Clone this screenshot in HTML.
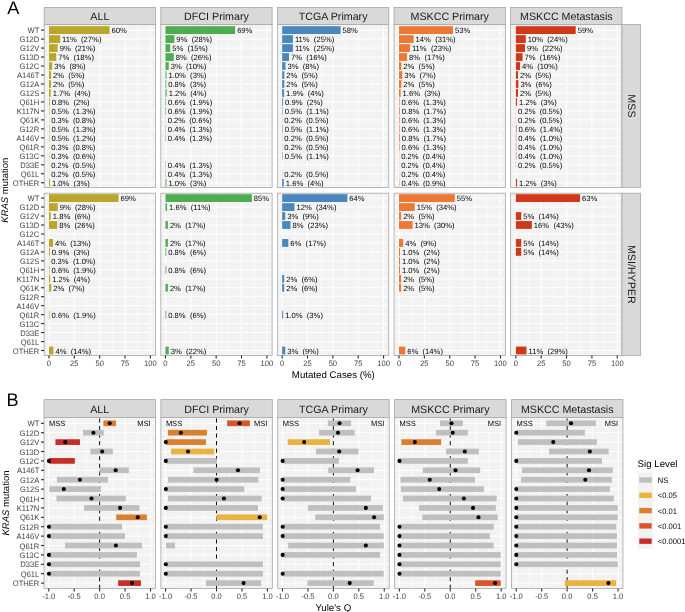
<!DOCTYPE html>
<html lang="en">
<head>
<meta charset="utf-8">
<title>KRAS mutation frequencies by cohort and MSI status</title>
<style>
html,body{margin:0;padding:0;background:#fff;}
body{width:685px;height:612px;overflow:hidden;font-family:"Liberation Sans", Arial, Helvetica, sans-serif;}
svg text{font-family:"Liberation Sans", Arial, Helvetica, sans-serif;}
</style>
</head>
<body>
<svg width="685" height="612" viewBox="0 0 685 612" font-family='"Liberation Sans", Arial, Helvetica, sans-serif' text-rendering="geometricPrecision" style="display:block">
<rect x="0" y="0" width="685" height="612" fill="#FFFFFF"/>
<text x="7.2" y="13.5" font-size="18.2" fill="#000" text-anchor="start">A</text>
<text x="6.5" y="406.4" font-size="18.2" fill="#000" text-anchor="start">B</text>
<rect x="44.2" y="7.4" width="111.3" height="17.1" fill="#D9D9D9" stroke="#A6A6A6" stroke-width="0.8"/>
<text x="99.85" y="19.8" font-size="10.7" fill="#1A1A1A" text-anchor="middle">ALL</text>
<rect x="44.2" y="24.5" width="111.3" height="162.95" fill="#F2F2F2"/>
<line x1="61.63" y1="24.5" x2="61.63" y2="187.45" stroke="#FFFFFF" stroke-width="0.55"/>
<line x1="86.98" y1="24.5" x2="86.98" y2="187.45" stroke="#FFFFFF" stroke-width="0.55"/>
<line x1="112.34" y1="24.5" x2="112.34" y2="187.45" stroke="#FFFFFF" stroke-width="0.55"/>
<line x1="137.69" y1="24.5" x2="137.69" y2="187.45" stroke="#FFFFFF" stroke-width="0.55"/>
<line x1="44.2" y1="30.1" x2="155.5" y2="30.1" stroke="#FFFFFF" stroke-width="1"/>
<line x1="44.2" y1="39.08" x2="155.5" y2="39.08" stroke="#FFFFFF" stroke-width="1"/>
<line x1="44.2" y1="48.06" x2="155.5" y2="48.06" stroke="#FFFFFF" stroke-width="1"/>
<line x1="44.2" y1="57.04" x2="155.5" y2="57.04" stroke="#FFFFFF" stroke-width="1"/>
<line x1="44.2" y1="66.02" x2="155.5" y2="66.02" stroke="#FFFFFF" stroke-width="1"/>
<line x1="44.2" y1="75" x2="155.5" y2="75" stroke="#FFFFFF" stroke-width="1"/>
<line x1="44.2" y1="83.98" x2="155.5" y2="83.98" stroke="#FFFFFF" stroke-width="1"/>
<line x1="44.2" y1="92.96" x2="155.5" y2="92.96" stroke="#FFFFFF" stroke-width="1"/>
<line x1="44.2" y1="101.94" x2="155.5" y2="101.94" stroke="#FFFFFF" stroke-width="1"/>
<line x1="44.2" y1="110.92" x2="155.5" y2="110.92" stroke="#FFFFFF" stroke-width="1"/>
<line x1="44.2" y1="119.9" x2="155.5" y2="119.9" stroke="#FFFFFF" stroke-width="1"/>
<line x1="44.2" y1="128.88" x2="155.5" y2="128.88" stroke="#FFFFFF" stroke-width="1"/>
<line x1="44.2" y1="137.86" x2="155.5" y2="137.86" stroke="#FFFFFF" stroke-width="1"/>
<line x1="44.2" y1="146.84" x2="155.5" y2="146.84" stroke="#FFFFFF" stroke-width="1"/>
<line x1="44.2" y1="155.82" x2="155.5" y2="155.82" stroke="#FFFFFF" stroke-width="1"/>
<line x1="44.2" y1="164.8" x2="155.5" y2="164.8" stroke="#FFFFFF" stroke-width="1"/>
<line x1="44.2" y1="173.78" x2="155.5" y2="173.78" stroke="#FFFFFF" stroke-width="1"/>
<line x1="44.2" y1="182.76" x2="155.5" y2="182.76" stroke="#FFFFFF" stroke-width="1"/>
<line x1="48.95" y1="24.5" x2="48.95" y2="187.45" stroke="#FFFFFF" stroke-width="1"/>
<line x1="74.31" y1="24.5" x2="74.31" y2="187.45" stroke="#FFFFFF" stroke-width="1"/>
<line x1="99.66" y1="24.5" x2="99.66" y2="187.45" stroke="#FFFFFF" stroke-width="1"/>
<line x1="125.02" y1="24.5" x2="125.02" y2="187.45" stroke="#FFFFFF" stroke-width="1"/>
<line x1="150.37" y1="24.5" x2="150.37" y2="187.45" stroke="#FFFFFF" stroke-width="1"/>
<rect x="48.95" y="26.2" width="60.65" height="7.8" fill="#BAA62B"/>
<text x="111.6" y="33.1" font-size="7.65" fill="#000" text-anchor="start" xml:space="preserve" style="white-space:pre">60%</text>
<rect x="48.95" y="35.18" width="11.16" height="7.8" fill="#BAA62B"/>
<text x="62.11" y="42.08" font-size="7.65" fill="#000" text-anchor="start" xml:space="preserve" style="white-space:pre">11%  (27%)</text>
<rect x="48.95" y="44.16" width="8.72" height="7.8" fill="#BAA62B"/>
<text x="59.67" y="51.06" font-size="7.65" fill="#000" text-anchor="start" xml:space="preserve" style="white-space:pre">9%  (21%)</text>
<rect x="48.95" y="53.14" width="7.3" height="7.8" fill="#BAA62B"/>
<text x="58.25" y="60.04" font-size="7.65" fill="#000" text-anchor="start" xml:space="preserve" style="white-space:pre">7%  (18%)</text>
<rect x="48.95" y="62.12" width="3.25" height="7.8" fill="#BAA62B"/>
<text x="54.2" y="69.02" font-size="7.65" fill="#000" text-anchor="start" xml:space="preserve" style="white-space:pre">3%  (8%)</text>
<rect x="48.95" y="71.1" width="2.13" height="7.8" fill="#BAA62B"/>
<text x="53.08" y="78" font-size="7.65" fill="#000" text-anchor="start" xml:space="preserve" style="white-space:pre">2%  (5%)</text>
<rect x="48.95" y="80.08" width="2.03" height="7.8" fill="#BAA62B"/>
<text x="52.98" y="86.98" font-size="7.65" fill="#000" text-anchor="start" xml:space="preserve" style="white-space:pre">2%  (5%)</text>
<rect x="48.95" y="89.06" width="1.72" height="7.8" fill="#BAA62B"/>
<text x="52.67" y="95.96" font-size="7.65" fill="#000" text-anchor="start" xml:space="preserve" style="white-space:pre">1.7%  (4%)</text>
<rect x="48.95" y="98.04" width="0.81" height="7.8" fill="#BAA62B"/>
<text x="51.76" y="104.94" font-size="7.65" fill="#000" text-anchor="start" xml:space="preserve" style="white-space:pre">0.8%  (2%)</text>
<rect x="48.95" y="107.02" width="0.51" height="7.8" fill="#BAA62B"/>
<text x="51.46" y="113.92" font-size="7.65" fill="#000" text-anchor="start" xml:space="preserve" style="white-space:pre">0.5%  (1.3%)</text>
<rect x="48.95" y="116" width="0.3" height="7.8" fill="#BAA62B"/>
<text x="51.25" y="122.9" font-size="7.65" fill="#000" text-anchor="start" xml:space="preserve" style="white-space:pre">0.3%  (0.8%)</text>
<rect x="48.95" y="124.98" width="0.51" height="7.8" fill="#BAA62B"/>
<text x="51.46" y="131.88" font-size="7.65" fill="#000" text-anchor="start" xml:space="preserve" style="white-space:pre">0.5%  (1.3%)</text>
<rect x="48.95" y="133.96" width="0.51" height="7.8" fill="#BAA62B"/>
<text x="51.46" y="140.86" font-size="7.65" fill="#000" text-anchor="start" xml:space="preserve" style="white-space:pre">0.5%  (1.2%)</text>
<rect x="48.95" y="142.94" width="0.3" height="7.8" fill="#BAA62B"/>
<text x="51.25" y="149.84" font-size="7.65" fill="#000" text-anchor="start" xml:space="preserve" style="white-space:pre">0.3%  (0.8%)</text>
<rect x="48.95" y="151.92" width="0.3" height="7.8" fill="#BAA62B"/>
<text x="51.25" y="158.82" font-size="7.65" fill="#000" text-anchor="start" xml:space="preserve" style="white-space:pre">0.3%  (0.6%)</text>
<rect x="48.95" y="160.9" width="0.2" height="7.8" fill="#BAA62B"/>
<text x="51.15" y="167.8" font-size="7.65" fill="#000" text-anchor="start" xml:space="preserve" style="white-space:pre">0.2%  (0.5%)</text>
<rect x="48.95" y="169.88" width="0.2" height="7.8" fill="#BAA62B"/>
<text x="51.15" y="176.78" font-size="7.65" fill="#000" text-anchor="start" xml:space="preserve" style="white-space:pre">0.2%  (0.5%)</text>
<rect x="48.95" y="178.86" width="1.01" height="7.8" fill="#BAA62B"/>
<text x="51.96" y="185.76" font-size="7.65" fill="#000" text-anchor="start" xml:space="preserve" style="white-space:pre">1.0%  (3%)</text>
<rect x="44.2" y="24.5" width="111.3" height="162.95" fill="none" stroke="#A6A6A6" stroke-width="0.8"/>
<line x1="41" y1="30.1" x2="44.2" y2="30.1" stroke="#262626" stroke-width="1.1"/>
<text transform="translate(39.3 33.2) scale(0.96 1)" font-size="7.9" fill="#404040" text-anchor="end">WT</text>
<line x1="41" y1="39.08" x2="44.2" y2="39.08" stroke="#262626" stroke-width="1.1"/>
<text transform="translate(39.3 42.18) scale(0.96 1)" font-size="7.9" fill="#404040" text-anchor="end">G12D</text>
<line x1="41" y1="48.06" x2="44.2" y2="48.06" stroke="#262626" stroke-width="1.1"/>
<text transform="translate(39.3 51.16) scale(0.96 1)" font-size="7.9" fill="#404040" text-anchor="end">G12V</text>
<line x1="41" y1="57.04" x2="44.2" y2="57.04" stroke="#262626" stroke-width="1.1"/>
<text transform="translate(39.3 60.14) scale(0.96 1)" font-size="7.9" fill="#404040" text-anchor="end">G13D</text>
<line x1="41" y1="66.02" x2="44.2" y2="66.02" stroke="#262626" stroke-width="1.1"/>
<text transform="translate(39.3 69.12) scale(0.96 1)" font-size="7.9" fill="#404040" text-anchor="end">G12C</text>
<line x1="41" y1="75" x2="44.2" y2="75" stroke="#262626" stroke-width="1.1"/>
<text transform="translate(39.3 78.1) scale(0.96 1)" font-size="7.9" fill="#404040" text-anchor="end">A146T</text>
<line x1="41" y1="83.98" x2="44.2" y2="83.98" stroke="#262626" stroke-width="1.1"/>
<text transform="translate(39.3 87.08) scale(0.96 1)" font-size="7.9" fill="#404040" text-anchor="end">G12A</text>
<line x1="41" y1="92.96" x2="44.2" y2="92.96" stroke="#262626" stroke-width="1.1"/>
<text transform="translate(39.3 96.06) scale(0.96 1)" font-size="7.9" fill="#404040" text-anchor="end">G12S</text>
<line x1="41" y1="101.94" x2="44.2" y2="101.94" stroke="#262626" stroke-width="1.1"/>
<text transform="translate(39.3 105.04) scale(0.96 1)" font-size="7.9" fill="#404040" text-anchor="end">Q61H</text>
<line x1="41" y1="110.92" x2="44.2" y2="110.92" stroke="#262626" stroke-width="1.1"/>
<text transform="translate(39.3 114.02) scale(0.96 1)" font-size="7.9" fill="#404040" text-anchor="end">K117N</text>
<line x1="41" y1="119.9" x2="44.2" y2="119.9" stroke="#262626" stroke-width="1.1"/>
<text transform="translate(39.3 123) scale(0.96 1)" font-size="7.9" fill="#404040" text-anchor="end">Q61K</text>
<line x1="41" y1="128.88" x2="44.2" y2="128.88" stroke="#262626" stroke-width="1.1"/>
<text transform="translate(39.3 131.98) scale(0.96 1)" font-size="7.9" fill="#404040" text-anchor="end">G12R</text>
<line x1="41" y1="137.86" x2="44.2" y2="137.86" stroke="#262626" stroke-width="1.1"/>
<text transform="translate(39.3 140.96) scale(0.96 1)" font-size="7.9" fill="#404040" text-anchor="end">A146V</text>
<line x1="41" y1="146.84" x2="44.2" y2="146.84" stroke="#262626" stroke-width="1.1"/>
<text transform="translate(39.3 149.94) scale(0.96 1)" font-size="7.9" fill="#404040" text-anchor="end">Q61R</text>
<line x1="41" y1="155.82" x2="44.2" y2="155.82" stroke="#262626" stroke-width="1.1"/>
<text transform="translate(39.3 158.92) scale(0.96 1)" font-size="7.9" fill="#404040" text-anchor="end">G13C</text>
<line x1="41" y1="164.8" x2="44.2" y2="164.8" stroke="#262626" stroke-width="1.1"/>
<text transform="translate(39.3 167.9) scale(0.96 1)" font-size="7.9" fill="#404040" text-anchor="end">D33E</text>
<line x1="41" y1="173.78" x2="44.2" y2="173.78" stroke="#262626" stroke-width="1.1"/>
<text transform="translate(39.3 176.88) scale(0.96 1)" font-size="7.9" fill="#404040" text-anchor="end">Q61L</text>
<line x1="41" y1="182.76" x2="44.2" y2="182.76" stroke="#262626" stroke-width="1.1"/>
<text transform="translate(39.3 185.86) scale(0.96 1)" font-size="7.9" fill="#404040" text-anchor="end">OTHER</text>
<rect x="44.2" y="193.2" width="111.3" height="162.2" fill="#F2F2F2"/>
<line x1="61.63" y1="193.2" x2="61.63" y2="355.4" stroke="#FFFFFF" stroke-width="0.55"/>
<line x1="86.98" y1="193.2" x2="86.98" y2="355.4" stroke="#FFFFFF" stroke-width="0.55"/>
<line x1="112.34" y1="193.2" x2="112.34" y2="355.4" stroke="#FFFFFF" stroke-width="0.55"/>
<line x1="137.69" y1="193.2" x2="137.69" y2="355.4" stroke="#FFFFFF" stroke-width="0.55"/>
<line x1="44.2" y1="198.1" x2="155.5" y2="198.1" stroke="#FFFFFF" stroke-width="1"/>
<line x1="44.2" y1="207.06" x2="155.5" y2="207.06" stroke="#FFFFFF" stroke-width="1"/>
<line x1="44.2" y1="216.03" x2="155.5" y2="216.03" stroke="#FFFFFF" stroke-width="1"/>
<line x1="44.2" y1="225" x2="155.5" y2="225" stroke="#FFFFFF" stroke-width="1"/>
<line x1="44.2" y1="233.96" x2="155.5" y2="233.96" stroke="#FFFFFF" stroke-width="1"/>
<line x1="44.2" y1="242.93" x2="155.5" y2="242.93" stroke="#FFFFFF" stroke-width="1"/>
<line x1="44.2" y1="251.89" x2="155.5" y2="251.89" stroke="#FFFFFF" stroke-width="1"/>
<line x1="44.2" y1="260.86" x2="155.5" y2="260.86" stroke="#FFFFFF" stroke-width="1"/>
<line x1="44.2" y1="269.82" x2="155.5" y2="269.82" stroke="#FFFFFF" stroke-width="1"/>
<line x1="44.2" y1="278.78" x2="155.5" y2="278.78" stroke="#FFFFFF" stroke-width="1"/>
<line x1="44.2" y1="287.75" x2="155.5" y2="287.75" stroke="#FFFFFF" stroke-width="1"/>
<line x1="44.2" y1="296.71" x2="155.5" y2="296.71" stroke="#FFFFFF" stroke-width="1"/>
<line x1="44.2" y1="305.68" x2="155.5" y2="305.68" stroke="#FFFFFF" stroke-width="1"/>
<line x1="44.2" y1="314.64" x2="155.5" y2="314.64" stroke="#FFFFFF" stroke-width="1"/>
<line x1="44.2" y1="323.61" x2="155.5" y2="323.61" stroke="#FFFFFF" stroke-width="1"/>
<line x1="44.2" y1="332.57" x2="155.5" y2="332.57" stroke="#FFFFFF" stroke-width="1"/>
<line x1="44.2" y1="341.54" x2="155.5" y2="341.54" stroke="#FFFFFF" stroke-width="1"/>
<line x1="44.2" y1="350.5" x2="155.5" y2="350.5" stroke="#FFFFFF" stroke-width="1"/>
<line x1="48.95" y1="193.2" x2="48.95" y2="355.4" stroke="#FFFFFF" stroke-width="1"/>
<line x1="74.31" y1="193.2" x2="74.31" y2="355.4" stroke="#FFFFFF" stroke-width="1"/>
<line x1="99.66" y1="193.2" x2="99.66" y2="355.4" stroke="#FFFFFF" stroke-width="1"/>
<line x1="125.02" y1="193.2" x2="125.02" y2="355.4" stroke="#FFFFFF" stroke-width="1"/>
<line x1="150.37" y1="193.2" x2="150.37" y2="355.4" stroke="#FFFFFF" stroke-width="1"/>
<rect x="48.95" y="194.2" width="69.57" height="7.8" fill="#BAA62B"/>
<text x="120.52" y="201.1" font-size="7.65" fill="#000" text-anchor="start" xml:space="preserve" style="white-space:pre">69%</text>
<rect x="48.95" y="203.16" width="8.82" height="7.8" fill="#BAA62B"/>
<text x="59.77" y="210.06" font-size="7.65" fill="#000" text-anchor="start" xml:space="preserve" style="white-space:pre">9%  (28%)</text>
<rect x="48.95" y="212.13" width="1.83" height="7.8" fill="#BAA62B"/>
<text x="52.78" y="219.03" font-size="7.65" fill="#000" text-anchor="start" xml:space="preserve" style="white-space:pre">1.8%  (6%)</text>
<rect x="48.95" y="221.09" width="8.22" height="7.8" fill="#BAA62B"/>
<text x="59.17" y="228" font-size="7.65" fill="#000" text-anchor="start" xml:space="preserve" style="white-space:pre">8%  (26%)</text>
<rect x="48.95" y="239.03" width="4.06" height="7.8" fill="#BAA62B"/>
<text x="55.01" y="245.93" font-size="7.65" fill="#000" text-anchor="start" xml:space="preserve" style="white-space:pre">4%  (13%)</text>
<rect x="48.95" y="247.99" width="0.91" height="7.8" fill="#BAA62B"/>
<text x="51.86" y="254.89" font-size="7.65" fill="#000" text-anchor="start" xml:space="preserve" style="white-space:pre">0.9%  (3%)</text>
<rect x="48.95" y="256.96" width="0.3" height="7.8" fill="#BAA62B"/>
<text x="51.25" y="263.86" font-size="7.65" fill="#000" text-anchor="start" xml:space="preserve" style="white-space:pre">0.3%  (1.0%)</text>
<rect x="48.95" y="265.92" width="0.61" height="7.8" fill="#BAA62B"/>
<text x="51.56" y="272.82" font-size="7.65" fill="#000" text-anchor="start" xml:space="preserve" style="white-space:pre">0.6%  (1.9%)</text>
<rect x="48.95" y="274.88" width="1.22" height="7.8" fill="#BAA62B"/>
<text x="52.17" y="281.78" font-size="7.65" fill="#000" text-anchor="start" xml:space="preserve" style="white-space:pre">1.2%  (4%)</text>
<rect x="48.95" y="283.85" width="2.23" height="7.8" fill="#BAA62B"/>
<text x="53.18" y="290.75" font-size="7.65" fill="#000" text-anchor="start" xml:space="preserve" style="white-space:pre">2%  (7%)</text>
<rect x="48.95" y="310.75" width="0.61" height="7.8" fill="#BAA62B"/>
<text x="51.56" y="317.64" font-size="7.65" fill="#000" text-anchor="start" xml:space="preserve" style="white-space:pre">0.6%  (1.9%)</text>
<rect x="48.95" y="346.61" width="4.46" height="7.8" fill="#BAA62B"/>
<text x="55.41" y="353.5" font-size="7.65" fill="#000" text-anchor="start" xml:space="preserve" style="white-space:pre">4%  (14%)</text>
<rect x="44.2" y="193.2" width="111.3" height="162.2" fill="none" stroke="#A6A6A6" stroke-width="0.8"/>
<line x1="41" y1="198.1" x2="44.2" y2="198.1" stroke="#262626" stroke-width="1.1"/>
<text transform="translate(39.3 201.2) scale(0.96 1)" font-size="7.9" fill="#404040" text-anchor="end">WT</text>
<line x1="41" y1="207.06" x2="44.2" y2="207.06" stroke="#262626" stroke-width="1.1"/>
<text transform="translate(39.3 210.16) scale(0.96 1)" font-size="7.9" fill="#404040" text-anchor="end">G12D</text>
<line x1="41" y1="216.03" x2="44.2" y2="216.03" stroke="#262626" stroke-width="1.1"/>
<text transform="translate(39.3 219.13) scale(0.96 1)" font-size="7.9" fill="#404040" text-anchor="end">G12V</text>
<line x1="41" y1="225" x2="44.2" y2="225" stroke="#262626" stroke-width="1.1"/>
<text transform="translate(39.3 228.09) scale(0.96 1)" font-size="7.9" fill="#404040" text-anchor="end">G13D</text>
<line x1="41" y1="233.96" x2="44.2" y2="233.96" stroke="#262626" stroke-width="1.1"/>
<text transform="translate(39.3 237.06) scale(0.96 1)" font-size="7.9" fill="#404040" text-anchor="end">G12C</text>
<line x1="41" y1="242.93" x2="44.2" y2="242.93" stroke="#262626" stroke-width="1.1"/>
<text transform="translate(39.3 246.03) scale(0.96 1)" font-size="7.9" fill="#404040" text-anchor="end">A146T</text>
<line x1="41" y1="251.89" x2="44.2" y2="251.89" stroke="#262626" stroke-width="1.1"/>
<text transform="translate(39.3 254.99) scale(0.96 1)" font-size="7.9" fill="#404040" text-anchor="end">G12A</text>
<line x1="41" y1="260.86" x2="44.2" y2="260.86" stroke="#262626" stroke-width="1.1"/>
<text transform="translate(39.3 263.96) scale(0.96 1)" font-size="7.9" fill="#404040" text-anchor="end">G12S</text>
<line x1="41" y1="269.82" x2="44.2" y2="269.82" stroke="#262626" stroke-width="1.1"/>
<text transform="translate(39.3 272.92) scale(0.96 1)" font-size="7.9" fill="#404040" text-anchor="end">Q61H</text>
<line x1="41" y1="278.78" x2="44.2" y2="278.78" stroke="#262626" stroke-width="1.1"/>
<text transform="translate(39.3 281.88) scale(0.96 1)" font-size="7.9" fill="#404040" text-anchor="end">K117N</text>
<line x1="41" y1="287.75" x2="44.2" y2="287.75" stroke="#262626" stroke-width="1.1"/>
<text transform="translate(39.3 290.85) scale(0.96 1)" font-size="7.9" fill="#404040" text-anchor="end">Q61K</text>
<line x1="41" y1="296.71" x2="44.2" y2="296.71" stroke="#262626" stroke-width="1.1"/>
<text transform="translate(39.3 299.81) scale(0.96 1)" font-size="7.9" fill="#404040" text-anchor="end">G12R</text>
<line x1="41" y1="305.68" x2="44.2" y2="305.68" stroke="#262626" stroke-width="1.1"/>
<text transform="translate(39.3 308.78) scale(0.96 1)" font-size="7.9" fill="#404040" text-anchor="end">A146V</text>
<line x1="41" y1="314.64" x2="44.2" y2="314.64" stroke="#262626" stroke-width="1.1"/>
<text transform="translate(39.3 317.75) scale(0.96 1)" font-size="7.9" fill="#404040" text-anchor="end">Q61R</text>
<line x1="41" y1="323.61" x2="44.2" y2="323.61" stroke="#262626" stroke-width="1.1"/>
<text transform="translate(39.3 326.71) scale(0.96 1)" font-size="7.9" fill="#404040" text-anchor="end">G13C</text>
<line x1="41" y1="332.57" x2="44.2" y2="332.57" stroke="#262626" stroke-width="1.1"/>
<text transform="translate(39.3 335.68) scale(0.96 1)" font-size="7.9" fill="#404040" text-anchor="end">D33E</text>
<line x1="41" y1="341.54" x2="44.2" y2="341.54" stroke="#262626" stroke-width="1.1"/>
<text transform="translate(39.3 344.64) scale(0.96 1)" font-size="7.9" fill="#404040" text-anchor="end">Q61L</text>
<line x1="41" y1="350.5" x2="44.2" y2="350.5" stroke="#262626" stroke-width="1.1"/>
<text transform="translate(39.3 353.61) scale(0.96 1)" font-size="7.9" fill="#404040" text-anchor="end">OTHER</text>
<line x1="48.95" y1="355.4" x2="48.95" y2="358.4" stroke="#262626" stroke-width="1.1"/>
<text transform="translate(48.95 365.7) scale(0.96 1)" font-size="7.9" fill="#404040" text-anchor="middle">0</text>
<line x1="74.31" y1="355.4" x2="74.31" y2="358.4" stroke="#262626" stroke-width="1.1"/>
<text transform="translate(74.31 365.7) scale(0.96 1)" font-size="7.9" fill="#404040" text-anchor="middle">25</text>
<line x1="99.66" y1="355.4" x2="99.66" y2="358.4" stroke="#262626" stroke-width="1.1"/>
<text transform="translate(99.66 365.7) scale(0.96 1)" font-size="7.9" fill="#404040" text-anchor="middle">50</text>
<line x1="125.02" y1="355.4" x2="125.02" y2="358.4" stroke="#262626" stroke-width="1.1"/>
<text transform="translate(125.02 365.7) scale(0.96 1)" font-size="7.9" fill="#404040" text-anchor="middle">75</text>
<line x1="150.37" y1="355.4" x2="150.37" y2="358.4" stroke="#262626" stroke-width="1.1"/>
<text transform="translate(150.37 365.7) scale(0.96 1)" font-size="7.9" fill="#404040" text-anchor="middle">100</text>
<rect x="160.82" y="7.4" width="111.3" height="17.1" fill="#D9D9D9" stroke="#A6A6A6" stroke-width="0.8"/>
<text x="216.47" y="19.8" font-size="10.7" fill="#1A1A1A" text-anchor="middle">DFCI Primary</text>
<rect x="160.82" y="24.5" width="111.3" height="162.95" fill="#F2F2F2"/>
<line x1="178.13" y1="24.5" x2="178.13" y2="187.45" stroke="#FFFFFF" stroke-width="0.55"/>
<line x1="203.48" y1="24.5" x2="203.48" y2="187.45" stroke="#FFFFFF" stroke-width="0.55"/>
<line x1="228.84" y1="24.5" x2="228.84" y2="187.45" stroke="#FFFFFF" stroke-width="0.55"/>
<line x1="254.19" y1="24.5" x2="254.19" y2="187.45" stroke="#FFFFFF" stroke-width="0.55"/>
<line x1="160.82" y1="30.1" x2="272.12" y2="30.1" stroke="#FFFFFF" stroke-width="1"/>
<line x1="160.82" y1="39.08" x2="272.12" y2="39.08" stroke="#FFFFFF" stroke-width="1"/>
<line x1="160.82" y1="48.06" x2="272.12" y2="48.06" stroke="#FFFFFF" stroke-width="1"/>
<line x1="160.82" y1="57.04" x2="272.12" y2="57.04" stroke="#FFFFFF" stroke-width="1"/>
<line x1="160.82" y1="66.02" x2="272.12" y2="66.02" stroke="#FFFFFF" stroke-width="1"/>
<line x1="160.82" y1="75" x2="272.12" y2="75" stroke="#FFFFFF" stroke-width="1"/>
<line x1="160.82" y1="83.98" x2="272.12" y2="83.98" stroke="#FFFFFF" stroke-width="1"/>
<line x1="160.82" y1="92.96" x2="272.12" y2="92.96" stroke="#FFFFFF" stroke-width="1"/>
<line x1="160.82" y1="101.94" x2="272.12" y2="101.94" stroke="#FFFFFF" stroke-width="1"/>
<line x1="160.82" y1="110.92" x2="272.12" y2="110.92" stroke="#FFFFFF" stroke-width="1"/>
<line x1="160.82" y1="119.9" x2="272.12" y2="119.9" stroke="#FFFFFF" stroke-width="1"/>
<line x1="160.82" y1="128.88" x2="272.12" y2="128.88" stroke="#FFFFFF" stroke-width="1"/>
<line x1="160.82" y1="137.86" x2="272.12" y2="137.86" stroke="#FFFFFF" stroke-width="1"/>
<line x1="160.82" y1="146.84" x2="272.12" y2="146.84" stroke="#FFFFFF" stroke-width="1"/>
<line x1="160.82" y1="155.82" x2="272.12" y2="155.82" stroke="#FFFFFF" stroke-width="1"/>
<line x1="160.82" y1="164.8" x2="272.12" y2="164.8" stroke="#FFFFFF" stroke-width="1"/>
<line x1="160.82" y1="173.78" x2="272.12" y2="173.78" stroke="#FFFFFF" stroke-width="1"/>
<line x1="160.82" y1="182.76" x2="272.12" y2="182.76" stroke="#FFFFFF" stroke-width="1"/>
<line x1="165.45" y1="24.5" x2="165.45" y2="187.45" stroke="#FFFFFF" stroke-width="1"/>
<line x1="190.8" y1="24.5" x2="190.8" y2="187.45" stroke="#FFFFFF" stroke-width="1"/>
<line x1="216.16" y1="24.5" x2="216.16" y2="187.45" stroke="#FFFFFF" stroke-width="1"/>
<line x1="241.51" y1="24.5" x2="241.51" y2="187.45" stroke="#FFFFFF" stroke-width="1"/>
<line x1="266.87" y1="24.5" x2="266.87" y2="187.45" stroke="#FFFFFF" stroke-width="1"/>
<rect x="165.45" y="26.2" width="69.68" height="7.8" fill="#4EAC51"/>
<text x="237.13" y="33.1" font-size="7.65" fill="#000" text-anchor="start" xml:space="preserve" style="white-space:pre">69%</text>
<rect x="165.45" y="35.18" width="8.92" height="7.8" fill="#4EAC51"/>
<text x="176.37" y="42.08" font-size="7.65" fill="#000" text-anchor="start" xml:space="preserve" style="white-space:pre">9%  (28%)</text>
<rect x="165.45" y="44.16" width="4.77" height="7.8" fill="#4EAC51"/>
<text x="172.22" y="51.06" font-size="7.65" fill="#000" text-anchor="start" xml:space="preserve" style="white-space:pre">5%  (15%)</text>
<rect x="165.45" y="53.14" width="8.32" height="7.8" fill="#4EAC51"/>
<text x="175.77" y="60.04" font-size="7.65" fill="#000" text-anchor="start" xml:space="preserve" style="white-space:pre">8%  (26%)</text>
<rect x="165.45" y="62.12" width="3.25" height="7.8" fill="#4EAC51"/>
<text x="170.7" y="69.02" font-size="7.65" fill="#000" text-anchor="start" xml:space="preserve" style="white-space:pre">3%  (10%)</text>
<rect x="165.45" y="71.1" width="1.01" height="7.8" fill="#4EAC51"/>
<text x="168.46" y="78" font-size="7.65" fill="#000" text-anchor="start" xml:space="preserve" style="white-space:pre">1.0%  (3%)</text>
<rect x="165.45" y="80.08" width="0.81" height="7.8" fill="#4EAC51"/>
<text x="168.26" y="86.98" font-size="7.65" fill="#000" text-anchor="start" xml:space="preserve" style="white-space:pre">0.8%  (3%)</text>
<rect x="165.45" y="89.06" width="1.22" height="7.8" fill="#4EAC51"/>
<text x="168.67" y="95.96" font-size="7.65" fill="#000" text-anchor="start" xml:space="preserve" style="white-space:pre">1.2%  (4%)</text>
<rect x="165.45" y="98.04" width="0.61" height="7.8" fill="#4EAC51"/>
<text x="168.06" y="104.94" font-size="7.65" fill="#000" text-anchor="start" xml:space="preserve" style="white-space:pre">0.6%  (1.9%)</text>
<rect x="165.45" y="107.02" width="0.61" height="7.8" fill="#4EAC51"/>
<text x="168.06" y="113.92" font-size="7.65" fill="#000" text-anchor="start" xml:space="preserve" style="white-space:pre">0.6%  (1.9%)</text>
<rect x="165.45" y="116" width="0.2" height="7.8" fill="#4EAC51"/>
<text x="167.65" y="122.9" font-size="7.65" fill="#000" text-anchor="start" xml:space="preserve" style="white-space:pre">0.2%  (0.6%)</text>
<rect x="165.45" y="124.98" width="0.41" height="7.8" fill="#4EAC51"/>
<text x="167.86" y="131.88" font-size="7.65" fill="#000" text-anchor="start" xml:space="preserve" style="white-space:pre">0.4%  (1.3%)</text>
<rect x="165.45" y="133.96" width="0.41" height="7.8" fill="#4EAC51"/>
<text x="167.86" y="140.86" font-size="7.65" fill="#000" text-anchor="start" xml:space="preserve" style="white-space:pre">0.4%  (1.3%)</text>
<rect x="165.45" y="160.9" width="0.41" height="7.8" fill="#4EAC51"/>
<text x="167.86" y="167.8" font-size="7.65" fill="#000" text-anchor="start" xml:space="preserve" style="white-space:pre">0.4%  (1.3%)</text>
<rect x="165.45" y="169.88" width="0.41" height="7.8" fill="#4EAC51"/>
<text x="167.86" y="176.78" font-size="7.65" fill="#000" text-anchor="start" xml:space="preserve" style="white-space:pre">0.4%  (1.3%)</text>
<rect x="165.45" y="178.86" width="1.01" height="7.8" fill="#4EAC51"/>
<text x="168.46" y="185.76" font-size="7.65" fill="#000" text-anchor="start" xml:space="preserve" style="white-space:pre">1.0%  (3%)</text>
<rect x="160.82" y="24.5" width="111.3" height="162.95" fill="none" stroke="#A6A6A6" stroke-width="0.8"/>
<rect x="160.82" y="193.2" width="111.3" height="162.2" fill="#F2F2F2"/>
<line x1="178.13" y1="193.2" x2="178.13" y2="355.4" stroke="#FFFFFF" stroke-width="0.55"/>
<line x1="203.48" y1="193.2" x2="203.48" y2="355.4" stroke="#FFFFFF" stroke-width="0.55"/>
<line x1="228.84" y1="193.2" x2="228.84" y2="355.4" stroke="#FFFFFF" stroke-width="0.55"/>
<line x1="254.19" y1="193.2" x2="254.19" y2="355.4" stroke="#FFFFFF" stroke-width="0.55"/>
<line x1="160.82" y1="198.1" x2="272.12" y2="198.1" stroke="#FFFFFF" stroke-width="1"/>
<line x1="160.82" y1="207.06" x2="272.12" y2="207.06" stroke="#FFFFFF" stroke-width="1"/>
<line x1="160.82" y1="216.03" x2="272.12" y2="216.03" stroke="#FFFFFF" stroke-width="1"/>
<line x1="160.82" y1="225" x2="272.12" y2="225" stroke="#FFFFFF" stroke-width="1"/>
<line x1="160.82" y1="233.96" x2="272.12" y2="233.96" stroke="#FFFFFF" stroke-width="1"/>
<line x1="160.82" y1="242.93" x2="272.12" y2="242.93" stroke="#FFFFFF" stroke-width="1"/>
<line x1="160.82" y1="251.89" x2="272.12" y2="251.89" stroke="#FFFFFF" stroke-width="1"/>
<line x1="160.82" y1="260.86" x2="272.12" y2="260.86" stroke="#FFFFFF" stroke-width="1"/>
<line x1="160.82" y1="269.82" x2="272.12" y2="269.82" stroke="#FFFFFF" stroke-width="1"/>
<line x1="160.82" y1="278.78" x2="272.12" y2="278.78" stroke="#FFFFFF" stroke-width="1"/>
<line x1="160.82" y1="287.75" x2="272.12" y2="287.75" stroke="#FFFFFF" stroke-width="1"/>
<line x1="160.82" y1="296.71" x2="272.12" y2="296.71" stroke="#FFFFFF" stroke-width="1"/>
<line x1="160.82" y1="305.68" x2="272.12" y2="305.68" stroke="#FFFFFF" stroke-width="1"/>
<line x1="160.82" y1="314.64" x2="272.12" y2="314.64" stroke="#FFFFFF" stroke-width="1"/>
<line x1="160.82" y1="323.61" x2="272.12" y2="323.61" stroke="#FFFFFF" stroke-width="1"/>
<line x1="160.82" y1="332.57" x2="272.12" y2="332.57" stroke="#FFFFFF" stroke-width="1"/>
<line x1="160.82" y1="341.54" x2="272.12" y2="341.54" stroke="#FFFFFF" stroke-width="1"/>
<line x1="160.82" y1="350.5" x2="272.12" y2="350.5" stroke="#FFFFFF" stroke-width="1"/>
<line x1="165.45" y1="193.2" x2="165.45" y2="355.4" stroke="#FFFFFF" stroke-width="1"/>
<line x1="190.8" y1="193.2" x2="190.8" y2="355.4" stroke="#FFFFFF" stroke-width="1"/>
<line x1="216.16" y1="193.2" x2="216.16" y2="355.4" stroke="#FFFFFF" stroke-width="1"/>
<line x1="241.51" y1="193.2" x2="241.51" y2="355.4" stroke="#FFFFFF" stroke-width="1"/>
<line x1="266.87" y1="193.2" x2="266.87" y2="355.4" stroke="#FFFFFF" stroke-width="1"/>
<rect x="165.45" y="194.2" width="86.41" height="7.8" fill="#4EAC51"/>
<text x="253.86" y="201.1" font-size="7.65" fill="#000" text-anchor="start" xml:space="preserve" style="white-space:pre">85%</text>
<rect x="165.45" y="203.16" width="1.62" height="7.8" fill="#4EAC51"/>
<text x="169.07" y="210.06" font-size="7.65" fill="#000" text-anchor="start" xml:space="preserve" style="white-space:pre">1.6%  (11%)</text>
<rect x="165.45" y="221.09" width="2.43" height="7.8" fill="#4EAC51"/>
<text x="169.88" y="228" font-size="7.65" fill="#000" text-anchor="start" xml:space="preserve" style="white-space:pre">2%  (17%)</text>
<rect x="165.45" y="239.03" width="2.43" height="7.8" fill="#4EAC51"/>
<text x="169.88" y="245.93" font-size="7.65" fill="#000" text-anchor="start" xml:space="preserve" style="white-space:pre">2%  (17%)</text>
<rect x="165.45" y="247.99" width="0.81" height="7.8" fill="#4EAC51"/>
<text x="168.26" y="254.89" font-size="7.65" fill="#000" text-anchor="start" xml:space="preserve" style="white-space:pre">0.8%  (6%)</text>
<rect x="165.45" y="265.92" width="0.81" height="7.8" fill="#4EAC51"/>
<text x="168.26" y="272.82" font-size="7.65" fill="#000" text-anchor="start" xml:space="preserve" style="white-space:pre">0.8%  (6%)</text>
<rect x="165.45" y="283.85" width="2.43" height="7.8" fill="#4EAC51"/>
<text x="169.88" y="290.75" font-size="7.65" fill="#000" text-anchor="start" xml:space="preserve" style="white-space:pre">2%  (17%)</text>
<rect x="165.45" y="310.75" width="0.81" height="7.8" fill="#4EAC51"/>
<text x="168.26" y="317.64" font-size="7.65" fill="#000" text-anchor="start" xml:space="preserve" style="white-space:pre">0.8%  (6%)</text>
<rect x="165.45" y="346.61" width="3.25" height="7.8" fill="#4EAC51"/>
<text x="170.7" y="353.5" font-size="7.65" fill="#000" text-anchor="start" xml:space="preserve" style="white-space:pre">3%  (22%)</text>
<rect x="160.82" y="193.2" width="111.3" height="162.2" fill="none" stroke="#A6A6A6" stroke-width="0.8"/>
<line x1="165.45" y1="355.4" x2="165.45" y2="358.4" stroke="#262626" stroke-width="1.1"/>
<text transform="translate(165.45 365.7) scale(0.96 1)" font-size="7.9" fill="#404040" text-anchor="middle">0</text>
<line x1="190.8" y1="355.4" x2="190.8" y2="358.4" stroke="#262626" stroke-width="1.1"/>
<text transform="translate(190.8 365.7) scale(0.96 1)" font-size="7.9" fill="#404040" text-anchor="middle">25</text>
<line x1="216.16" y1="355.4" x2="216.16" y2="358.4" stroke="#262626" stroke-width="1.1"/>
<text transform="translate(216.16 365.7) scale(0.96 1)" font-size="7.9" fill="#404040" text-anchor="middle">50</text>
<line x1="241.51" y1="355.4" x2="241.51" y2="358.4" stroke="#262626" stroke-width="1.1"/>
<text transform="translate(241.51 365.7) scale(0.96 1)" font-size="7.9" fill="#404040" text-anchor="middle">75</text>
<line x1="266.87" y1="355.4" x2="266.87" y2="358.4" stroke="#262626" stroke-width="1.1"/>
<text transform="translate(266.87 365.7) scale(0.96 1)" font-size="7.9" fill="#404040" text-anchor="middle">100</text>
<rect x="277.44" y="7.4" width="111.3" height="17.1" fill="#D9D9D9" stroke="#A6A6A6" stroke-width="0.8"/>
<text x="333.09" y="19.8" font-size="10.7" fill="#1A1A1A" text-anchor="middle">TCGA Primary</text>
<rect x="277.44" y="24.5" width="111.3" height="162.95" fill="#F2F2F2"/>
<line x1="294.83" y1="24.5" x2="294.83" y2="187.45" stroke="#FFFFFF" stroke-width="0.55"/>
<line x1="320.18" y1="24.5" x2="320.18" y2="187.45" stroke="#FFFFFF" stroke-width="0.55"/>
<line x1="345.54" y1="24.5" x2="345.54" y2="187.45" stroke="#FFFFFF" stroke-width="0.55"/>
<line x1="370.89" y1="24.5" x2="370.89" y2="187.45" stroke="#FFFFFF" stroke-width="0.55"/>
<line x1="277.44" y1="30.1" x2="388.74" y2="30.1" stroke="#FFFFFF" stroke-width="1"/>
<line x1="277.44" y1="39.08" x2="388.74" y2="39.08" stroke="#FFFFFF" stroke-width="1"/>
<line x1="277.44" y1="48.06" x2="388.74" y2="48.06" stroke="#FFFFFF" stroke-width="1"/>
<line x1="277.44" y1="57.04" x2="388.74" y2="57.04" stroke="#FFFFFF" stroke-width="1"/>
<line x1="277.44" y1="66.02" x2="388.74" y2="66.02" stroke="#FFFFFF" stroke-width="1"/>
<line x1="277.44" y1="75" x2="388.74" y2="75" stroke="#FFFFFF" stroke-width="1"/>
<line x1="277.44" y1="83.98" x2="388.74" y2="83.98" stroke="#FFFFFF" stroke-width="1"/>
<line x1="277.44" y1="92.96" x2="388.74" y2="92.96" stroke="#FFFFFF" stroke-width="1"/>
<line x1="277.44" y1="101.94" x2="388.74" y2="101.94" stroke="#FFFFFF" stroke-width="1"/>
<line x1="277.44" y1="110.92" x2="388.74" y2="110.92" stroke="#FFFFFF" stroke-width="1"/>
<line x1="277.44" y1="119.9" x2="388.74" y2="119.9" stroke="#FFFFFF" stroke-width="1"/>
<line x1="277.44" y1="128.88" x2="388.74" y2="128.88" stroke="#FFFFFF" stroke-width="1"/>
<line x1="277.44" y1="137.86" x2="388.74" y2="137.86" stroke="#FFFFFF" stroke-width="1"/>
<line x1="277.44" y1="146.84" x2="388.74" y2="146.84" stroke="#FFFFFF" stroke-width="1"/>
<line x1="277.44" y1="155.82" x2="388.74" y2="155.82" stroke="#FFFFFF" stroke-width="1"/>
<line x1="277.44" y1="164.8" x2="388.74" y2="164.8" stroke="#FFFFFF" stroke-width="1"/>
<line x1="277.44" y1="173.78" x2="388.74" y2="173.78" stroke="#FFFFFF" stroke-width="1"/>
<line x1="277.44" y1="182.76" x2="388.74" y2="182.76" stroke="#FFFFFF" stroke-width="1"/>
<line x1="282.15" y1="24.5" x2="282.15" y2="187.45" stroke="#FFFFFF" stroke-width="1"/>
<line x1="307.5" y1="24.5" x2="307.5" y2="187.45" stroke="#FFFFFF" stroke-width="1"/>
<line x1="332.86" y1="24.5" x2="332.86" y2="187.45" stroke="#FFFFFF" stroke-width="1"/>
<line x1="358.21" y1="24.5" x2="358.21" y2="187.45" stroke="#FFFFFF" stroke-width="1"/>
<line x1="383.57" y1="24.5" x2="383.57" y2="187.45" stroke="#FFFFFF" stroke-width="1"/>
<rect x="282.15" y="26.2" width="58.42" height="7.8" fill="#4A87BC"/>
<text x="342.57" y="33.1" font-size="7.65" fill="#000" text-anchor="start" xml:space="preserve" style="white-space:pre">58%</text>
<rect x="282.15" y="35.18" width="10.75" height="7.8" fill="#4A87BC"/>
<text x="294.9" y="42.08" font-size="7.65" fill="#000" text-anchor="start" xml:space="preserve" style="white-space:pre">11%  (25%)</text>
<rect x="282.15" y="44.16" width="10.75" height="7.8" fill="#4A87BC"/>
<text x="294.9" y="51.06" font-size="7.65" fill="#000" text-anchor="start" xml:space="preserve" style="white-space:pre">11%  (25%)</text>
<rect x="282.15" y="53.14" width="6.9" height="7.8" fill="#4A87BC"/>
<text x="291.05" y="60.04" font-size="7.65" fill="#000" text-anchor="start" xml:space="preserve" style="white-space:pre">7%  (16%)</text>
<rect x="282.15" y="62.12" width="3.35" height="7.8" fill="#4A87BC"/>
<text x="287.5" y="69.02" font-size="7.65" fill="#000" text-anchor="start" xml:space="preserve" style="white-space:pre">3%  (8%)</text>
<rect x="282.15" y="71.1" width="2.13" height="7.8" fill="#4A87BC"/>
<text x="286.28" y="78" font-size="7.65" fill="#000" text-anchor="start" xml:space="preserve" style="white-space:pre">2%  (5%)</text>
<rect x="282.15" y="80.08" width="2.13" height="7.8" fill="#4A87BC"/>
<text x="286.28" y="86.98" font-size="7.65" fill="#000" text-anchor="start" xml:space="preserve" style="white-space:pre">2%  (5%)</text>
<rect x="282.15" y="89.06" width="1.93" height="7.8" fill="#4A87BC"/>
<text x="286.08" y="95.96" font-size="7.65" fill="#000" text-anchor="start" xml:space="preserve" style="white-space:pre">1.9%  (4%)</text>
<rect x="282.15" y="98.04" width="0.91" height="7.8" fill="#4A87BC"/>
<text x="285.06" y="104.94" font-size="7.65" fill="#000" text-anchor="start" xml:space="preserve" style="white-space:pre">0.9%  (2%)</text>
<rect x="282.15" y="107.02" width="0.51" height="7.8" fill="#4A87BC"/>
<text x="284.66" y="113.92" font-size="7.65" fill="#000" text-anchor="start" xml:space="preserve" style="white-space:pre">0.5%  (1.1%)</text>
<rect x="282.15" y="116" width="0.2" height="7.8" fill="#4A87BC"/>
<text x="284.35" y="122.9" font-size="7.65" fill="#000" text-anchor="start" xml:space="preserve" style="white-space:pre">0.2%  (0.5%)</text>
<rect x="282.15" y="124.98" width="0.51" height="7.8" fill="#4A87BC"/>
<text x="284.66" y="131.88" font-size="7.65" fill="#000" text-anchor="start" xml:space="preserve" style="white-space:pre">0.5%  (1.1%)</text>
<rect x="282.15" y="133.96" width="0.2" height="7.8" fill="#4A87BC"/>
<text x="284.35" y="140.86" font-size="7.65" fill="#000" text-anchor="start" xml:space="preserve" style="white-space:pre">0.2%  (0.5%)</text>
<rect x="282.15" y="142.94" width="0.2" height="7.8" fill="#4A87BC"/>
<text x="284.35" y="149.84" font-size="7.65" fill="#000" text-anchor="start" xml:space="preserve" style="white-space:pre">0.2%  (0.5%)</text>
<rect x="282.15" y="151.92" width="0.51" height="7.8" fill="#4A87BC"/>
<text x="284.66" y="158.82" font-size="7.65" fill="#000" text-anchor="start" xml:space="preserve" style="white-space:pre">0.5%  (1.1%)</text>
<rect x="282.15" y="169.88" width="0.2" height="7.8" fill="#4A87BC"/>
<text x="284.35" y="176.78" font-size="7.65" fill="#000" text-anchor="start" xml:space="preserve" style="white-space:pre">0.2%  (0.5%)</text>
<rect x="282.15" y="178.86" width="1.62" height="7.8" fill="#4A87BC"/>
<text x="285.77" y="185.76" font-size="7.65" fill="#000" text-anchor="start" xml:space="preserve" style="white-space:pre">1.6%  (4%)</text>
<rect x="277.44" y="24.5" width="111.3" height="162.95" fill="none" stroke="#A6A6A6" stroke-width="0.8"/>
<rect x="277.44" y="193.2" width="111.3" height="162.2" fill="#F2F2F2"/>
<line x1="294.83" y1="193.2" x2="294.83" y2="355.4" stroke="#FFFFFF" stroke-width="0.55"/>
<line x1="320.18" y1="193.2" x2="320.18" y2="355.4" stroke="#FFFFFF" stroke-width="0.55"/>
<line x1="345.54" y1="193.2" x2="345.54" y2="355.4" stroke="#FFFFFF" stroke-width="0.55"/>
<line x1="370.89" y1="193.2" x2="370.89" y2="355.4" stroke="#FFFFFF" stroke-width="0.55"/>
<line x1="277.44" y1="198.1" x2="388.74" y2="198.1" stroke="#FFFFFF" stroke-width="1"/>
<line x1="277.44" y1="207.06" x2="388.74" y2="207.06" stroke="#FFFFFF" stroke-width="1"/>
<line x1="277.44" y1="216.03" x2="388.74" y2="216.03" stroke="#FFFFFF" stroke-width="1"/>
<line x1="277.44" y1="225" x2="388.74" y2="225" stroke="#FFFFFF" stroke-width="1"/>
<line x1="277.44" y1="233.96" x2="388.74" y2="233.96" stroke="#FFFFFF" stroke-width="1"/>
<line x1="277.44" y1="242.93" x2="388.74" y2="242.93" stroke="#FFFFFF" stroke-width="1"/>
<line x1="277.44" y1="251.89" x2="388.74" y2="251.89" stroke="#FFFFFF" stroke-width="1"/>
<line x1="277.44" y1="260.86" x2="388.74" y2="260.86" stroke="#FFFFFF" stroke-width="1"/>
<line x1="277.44" y1="269.82" x2="388.74" y2="269.82" stroke="#FFFFFF" stroke-width="1"/>
<line x1="277.44" y1="278.78" x2="388.74" y2="278.78" stroke="#FFFFFF" stroke-width="1"/>
<line x1="277.44" y1="287.75" x2="388.74" y2="287.75" stroke="#FFFFFF" stroke-width="1"/>
<line x1="277.44" y1="296.71" x2="388.74" y2="296.71" stroke="#FFFFFF" stroke-width="1"/>
<line x1="277.44" y1="305.68" x2="388.74" y2="305.68" stroke="#FFFFFF" stroke-width="1"/>
<line x1="277.44" y1="314.64" x2="388.74" y2="314.64" stroke="#FFFFFF" stroke-width="1"/>
<line x1="277.44" y1="323.61" x2="388.74" y2="323.61" stroke="#FFFFFF" stroke-width="1"/>
<line x1="277.44" y1="332.57" x2="388.74" y2="332.57" stroke="#FFFFFF" stroke-width="1"/>
<line x1="277.44" y1="341.54" x2="388.74" y2="341.54" stroke="#FFFFFF" stroke-width="1"/>
<line x1="277.44" y1="350.5" x2="388.74" y2="350.5" stroke="#FFFFFF" stroke-width="1"/>
<line x1="282.15" y1="193.2" x2="282.15" y2="355.4" stroke="#FFFFFF" stroke-width="1"/>
<line x1="307.5" y1="193.2" x2="307.5" y2="355.4" stroke="#FFFFFF" stroke-width="1"/>
<line x1="332.86" y1="193.2" x2="332.86" y2="355.4" stroke="#FFFFFF" stroke-width="1"/>
<line x1="358.21" y1="193.2" x2="358.21" y2="355.4" stroke="#FFFFFF" stroke-width="1"/>
<line x1="383.57" y1="193.2" x2="383.57" y2="355.4" stroke="#FFFFFF" stroke-width="1"/>
<rect x="282.15" y="194.2" width="65.21" height="7.8" fill="#4A87BC"/>
<text x="349.36" y="201.1" font-size="7.65" fill="#000" text-anchor="start" xml:space="preserve" style="white-space:pre">64%</text>
<rect x="282.15" y="203.16" width="12.37" height="7.8" fill="#4A87BC"/>
<text x="296.52" y="210.06" font-size="7.65" fill="#000" text-anchor="start" xml:space="preserve" style="white-space:pre">12%  (34%)</text>
<rect x="282.15" y="212.13" width="3.14" height="7.8" fill="#4A87BC"/>
<text x="287.29" y="219.03" font-size="7.65" fill="#000" text-anchor="start" xml:space="preserve" style="white-space:pre">3%  (9%)</text>
<rect x="282.15" y="221.09" width="8.32" height="7.8" fill="#4A87BC"/>
<text x="292.47" y="228" font-size="7.65" fill="#000" text-anchor="start" xml:space="preserve" style="white-space:pre">8%  (23%)</text>
<rect x="282.15" y="239.03" width="6.19" height="7.8" fill="#4A87BC"/>
<text x="290.34" y="245.93" font-size="7.65" fill="#000" text-anchor="start" xml:space="preserve" style="white-space:pre">6%  (17%)</text>
<rect x="282.15" y="274.88" width="2.03" height="7.8" fill="#4A87BC"/>
<text x="286.18" y="281.78" font-size="7.65" fill="#000" text-anchor="start" xml:space="preserve" style="white-space:pre">2%  (6%)</text>
<rect x="282.15" y="283.85" width="2.03" height="7.8" fill="#4A87BC"/>
<text x="286.18" y="290.75" font-size="7.65" fill="#000" text-anchor="start" xml:space="preserve" style="white-space:pre">2%  (6%)</text>
<rect x="282.15" y="310.75" width="1.01" height="7.8" fill="#4A87BC"/>
<text x="285.16" y="317.64" font-size="7.65" fill="#000" text-anchor="start" xml:space="preserve" style="white-space:pre">1.0%  (3%)</text>
<rect x="282.15" y="346.61" width="3.14" height="7.8" fill="#4A87BC"/>
<text x="287.29" y="353.5" font-size="7.65" fill="#000" text-anchor="start" xml:space="preserve" style="white-space:pre">3%  (9%)</text>
<rect x="277.44" y="193.2" width="111.3" height="162.2" fill="none" stroke="#A6A6A6" stroke-width="0.8"/>
<line x1="282.15" y1="355.4" x2="282.15" y2="358.4" stroke="#262626" stroke-width="1.1"/>
<text transform="translate(282.15 365.7) scale(0.96 1)" font-size="7.9" fill="#404040" text-anchor="middle">0</text>
<line x1="307.5" y1="355.4" x2="307.5" y2="358.4" stroke="#262626" stroke-width="1.1"/>
<text transform="translate(307.5 365.7) scale(0.96 1)" font-size="7.9" fill="#404040" text-anchor="middle">25</text>
<line x1="332.86" y1="355.4" x2="332.86" y2="358.4" stroke="#262626" stroke-width="1.1"/>
<text transform="translate(332.86 365.7) scale(0.96 1)" font-size="7.9" fill="#404040" text-anchor="middle">50</text>
<line x1="358.21" y1="355.4" x2="358.21" y2="358.4" stroke="#262626" stroke-width="1.1"/>
<text transform="translate(358.21 365.7) scale(0.96 1)" font-size="7.9" fill="#404040" text-anchor="middle">75</text>
<line x1="383.57" y1="355.4" x2="383.57" y2="358.4" stroke="#262626" stroke-width="1.1"/>
<text transform="translate(383.57 365.7) scale(0.96 1)" font-size="7.9" fill="#404040" text-anchor="middle">100</text>
<rect x="394.06" y="7.4" width="111.3" height="17.1" fill="#D9D9D9" stroke="#A6A6A6" stroke-width="0.8"/>
<text x="449.71" y="19.8" font-size="10.7" fill="#1A1A1A" text-anchor="middle">MSKCC Primary</text>
<rect x="394.06" y="24.5" width="111.3" height="162.95" fill="#F2F2F2"/>
<line x1="411.68" y1="24.5" x2="411.68" y2="187.45" stroke="#FFFFFF" stroke-width="0.55"/>
<line x1="437.03" y1="24.5" x2="437.03" y2="187.45" stroke="#FFFFFF" stroke-width="0.55"/>
<line x1="462.39" y1="24.5" x2="462.39" y2="187.45" stroke="#FFFFFF" stroke-width="0.55"/>
<line x1="487.74" y1="24.5" x2="487.74" y2="187.45" stroke="#FFFFFF" stroke-width="0.55"/>
<line x1="394.06" y1="30.1" x2="505.36" y2="30.1" stroke="#FFFFFF" stroke-width="1"/>
<line x1="394.06" y1="39.08" x2="505.36" y2="39.08" stroke="#FFFFFF" stroke-width="1"/>
<line x1="394.06" y1="48.06" x2="505.36" y2="48.06" stroke="#FFFFFF" stroke-width="1"/>
<line x1="394.06" y1="57.04" x2="505.36" y2="57.04" stroke="#FFFFFF" stroke-width="1"/>
<line x1="394.06" y1="66.02" x2="505.36" y2="66.02" stroke="#FFFFFF" stroke-width="1"/>
<line x1="394.06" y1="75" x2="505.36" y2="75" stroke="#FFFFFF" stroke-width="1"/>
<line x1="394.06" y1="83.98" x2="505.36" y2="83.98" stroke="#FFFFFF" stroke-width="1"/>
<line x1="394.06" y1="92.96" x2="505.36" y2="92.96" stroke="#FFFFFF" stroke-width="1"/>
<line x1="394.06" y1="101.94" x2="505.36" y2="101.94" stroke="#FFFFFF" stroke-width="1"/>
<line x1="394.06" y1="110.92" x2="505.36" y2="110.92" stroke="#FFFFFF" stroke-width="1"/>
<line x1="394.06" y1="119.9" x2="505.36" y2="119.9" stroke="#FFFFFF" stroke-width="1"/>
<line x1="394.06" y1="128.88" x2="505.36" y2="128.88" stroke="#FFFFFF" stroke-width="1"/>
<line x1="394.06" y1="137.86" x2="505.36" y2="137.86" stroke="#FFFFFF" stroke-width="1"/>
<line x1="394.06" y1="146.84" x2="505.36" y2="146.84" stroke="#FFFFFF" stroke-width="1"/>
<line x1="394.06" y1="155.82" x2="505.36" y2="155.82" stroke="#FFFFFF" stroke-width="1"/>
<line x1="394.06" y1="164.8" x2="505.36" y2="164.8" stroke="#FFFFFF" stroke-width="1"/>
<line x1="394.06" y1="173.78" x2="505.36" y2="173.78" stroke="#FFFFFF" stroke-width="1"/>
<line x1="394.06" y1="182.76" x2="505.36" y2="182.76" stroke="#FFFFFF" stroke-width="1"/>
<line x1="399" y1="24.5" x2="399" y2="187.45" stroke="#FFFFFF" stroke-width="1"/>
<line x1="424.36" y1="24.5" x2="424.36" y2="187.45" stroke="#FFFFFF" stroke-width="1"/>
<line x1="449.71" y1="24.5" x2="449.71" y2="187.45" stroke="#FFFFFF" stroke-width="1"/>
<line x1="475.06" y1="24.5" x2="475.06" y2="187.45" stroke="#FFFFFF" stroke-width="1"/>
<line x1="500.42" y1="24.5" x2="500.42" y2="187.45" stroke="#FFFFFF" stroke-width="1"/>
<rect x="399" y="26.2" width="53.96" height="7.8" fill="#ED7835"/>
<text x="454.96" y="33.1" font-size="7.65" fill="#000" text-anchor="start" xml:space="preserve" style="white-space:pre">53%</text>
<rect x="399" y="35.18" width="14.6" height="7.8" fill="#ED7835"/>
<text x="415.6" y="42.08" font-size="7.65" fill="#000" text-anchor="start" xml:space="preserve" style="white-space:pre">14%  (31%)</text>
<rect x="399" y="44.16" width="10.95" height="7.8" fill="#ED7835"/>
<text x="411.95" y="51.06" font-size="7.65" fill="#000" text-anchor="start" xml:space="preserve" style="white-space:pre">11%  (23%)</text>
<rect x="399" y="53.14" width="8.11" height="7.8" fill="#ED7835"/>
<text x="409.11" y="60.04" font-size="7.65" fill="#000" text-anchor="start" xml:space="preserve" style="white-space:pre">8%  (17%)</text>
<rect x="399" y="62.12" width="2.33" height="7.8" fill="#ED7835"/>
<text x="403.33" y="69.02" font-size="7.65" fill="#000" text-anchor="start" xml:space="preserve" style="white-space:pre">2%  (5%)</text>
<rect x="399" y="71.1" width="3.25" height="7.8" fill="#ED7835"/>
<text x="404.25" y="78" font-size="7.65" fill="#000" text-anchor="start" xml:space="preserve" style="white-space:pre">3%  (7%)</text>
<rect x="399" y="80.08" width="2.33" height="7.8" fill="#ED7835"/>
<text x="403.33" y="86.98" font-size="7.65" fill="#000" text-anchor="start" xml:space="preserve" style="white-space:pre">2%  (5%)</text>
<rect x="399" y="89.06" width="1.62" height="7.8" fill="#ED7835"/>
<text x="402.62" y="95.96" font-size="7.65" fill="#000" text-anchor="start" xml:space="preserve" style="white-space:pre">1.6%  (3%)</text>
<rect x="399" y="98.04" width="0.61" height="7.8" fill="#ED7835"/>
<text x="401.61" y="104.94" font-size="7.65" fill="#000" text-anchor="start" xml:space="preserve" style="white-space:pre">0.6%  (1.3%)</text>
<rect x="399" y="107.02" width="0.81" height="7.8" fill="#ED7835"/>
<text x="401.81" y="113.92" font-size="7.65" fill="#000" text-anchor="start" xml:space="preserve" style="white-space:pre">0.8%  (1.7%)</text>
<rect x="399" y="116" width="0.61" height="7.8" fill="#ED7835"/>
<text x="401.61" y="122.9" font-size="7.65" fill="#000" text-anchor="start" xml:space="preserve" style="white-space:pre">0.6%  (1.3%)</text>
<rect x="399" y="124.98" width="0.61" height="7.8" fill="#ED7835"/>
<text x="401.61" y="131.88" font-size="7.65" fill="#000" text-anchor="start" xml:space="preserve" style="white-space:pre">0.6%  (1.3%)</text>
<rect x="399" y="133.96" width="0.81" height="7.8" fill="#ED7835"/>
<text x="401.81" y="140.86" font-size="7.65" fill="#000" text-anchor="start" xml:space="preserve" style="white-space:pre">0.8%  (1.7%)</text>
<rect x="399" y="142.94" width="0.61" height="7.8" fill="#ED7835"/>
<text x="401.61" y="149.84" font-size="7.65" fill="#000" text-anchor="start" xml:space="preserve" style="white-space:pre">0.6%  (1.3%)</text>
<rect x="399" y="151.92" width="0.2" height="7.8" fill="#ED7835"/>
<text x="401.2" y="158.82" font-size="7.65" fill="#000" text-anchor="start" xml:space="preserve" style="white-space:pre">0.2%  (0.4%)</text>
<rect x="399" y="160.9" width="0.2" height="7.8" fill="#ED7835"/>
<text x="401.2" y="167.8" font-size="7.65" fill="#000" text-anchor="start" xml:space="preserve" style="white-space:pre">0.2%  (0.4%)</text>
<rect x="399" y="169.88" width="0.2" height="7.8" fill="#ED7835"/>
<text x="401.2" y="176.78" font-size="7.65" fill="#000" text-anchor="start" xml:space="preserve" style="white-space:pre">0.2%  (0.4%)</text>
<rect x="399" y="178.86" width="0.41" height="7.8" fill="#ED7835"/>
<text x="401.41" y="185.76" font-size="7.65" fill="#000" text-anchor="start" xml:space="preserve" style="white-space:pre">0.4%  (0.9%)</text>
<rect x="394.06" y="24.5" width="111.3" height="162.95" fill="none" stroke="#A6A6A6" stroke-width="0.8"/>
<rect x="394.06" y="193.2" width="111.3" height="162.2" fill="#F2F2F2"/>
<line x1="411.68" y1="193.2" x2="411.68" y2="355.4" stroke="#FFFFFF" stroke-width="0.55"/>
<line x1="437.03" y1="193.2" x2="437.03" y2="355.4" stroke="#FFFFFF" stroke-width="0.55"/>
<line x1="462.39" y1="193.2" x2="462.39" y2="355.4" stroke="#FFFFFF" stroke-width="0.55"/>
<line x1="487.74" y1="193.2" x2="487.74" y2="355.4" stroke="#FFFFFF" stroke-width="0.55"/>
<line x1="394.06" y1="198.1" x2="505.36" y2="198.1" stroke="#FFFFFF" stroke-width="1"/>
<line x1="394.06" y1="207.06" x2="505.36" y2="207.06" stroke="#FFFFFF" stroke-width="1"/>
<line x1="394.06" y1="216.03" x2="505.36" y2="216.03" stroke="#FFFFFF" stroke-width="1"/>
<line x1="394.06" y1="225" x2="505.36" y2="225" stroke="#FFFFFF" stroke-width="1"/>
<line x1="394.06" y1="233.96" x2="505.36" y2="233.96" stroke="#FFFFFF" stroke-width="1"/>
<line x1="394.06" y1="242.93" x2="505.36" y2="242.93" stroke="#FFFFFF" stroke-width="1"/>
<line x1="394.06" y1="251.89" x2="505.36" y2="251.89" stroke="#FFFFFF" stroke-width="1"/>
<line x1="394.06" y1="260.86" x2="505.36" y2="260.86" stroke="#FFFFFF" stroke-width="1"/>
<line x1="394.06" y1="269.82" x2="505.36" y2="269.82" stroke="#FFFFFF" stroke-width="1"/>
<line x1="394.06" y1="278.78" x2="505.36" y2="278.78" stroke="#FFFFFF" stroke-width="1"/>
<line x1="394.06" y1="287.75" x2="505.36" y2="287.75" stroke="#FFFFFF" stroke-width="1"/>
<line x1="394.06" y1="296.71" x2="505.36" y2="296.71" stroke="#FFFFFF" stroke-width="1"/>
<line x1="394.06" y1="305.68" x2="505.36" y2="305.68" stroke="#FFFFFF" stroke-width="1"/>
<line x1="394.06" y1="314.64" x2="505.36" y2="314.64" stroke="#FFFFFF" stroke-width="1"/>
<line x1="394.06" y1="323.61" x2="505.36" y2="323.61" stroke="#FFFFFF" stroke-width="1"/>
<line x1="394.06" y1="332.57" x2="505.36" y2="332.57" stroke="#FFFFFF" stroke-width="1"/>
<line x1="394.06" y1="341.54" x2="505.36" y2="341.54" stroke="#FFFFFF" stroke-width="1"/>
<line x1="394.06" y1="350.5" x2="505.36" y2="350.5" stroke="#FFFFFF" stroke-width="1"/>
<line x1="399" y1="193.2" x2="399" y2="355.4" stroke="#FFFFFF" stroke-width="1"/>
<line x1="424.36" y1="193.2" x2="424.36" y2="355.4" stroke="#FFFFFF" stroke-width="1"/>
<line x1="449.71" y1="193.2" x2="449.71" y2="355.4" stroke="#FFFFFF" stroke-width="1"/>
<line x1="475.06" y1="193.2" x2="475.06" y2="355.4" stroke="#FFFFFF" stroke-width="1"/>
<line x1="500.42" y1="193.2" x2="500.42" y2="355.4" stroke="#FFFFFF" stroke-width="1"/>
<rect x="399" y="194.2" width="55.78" height="7.8" fill="#ED7835"/>
<text x="456.78" y="201.1" font-size="7.65" fill="#000" text-anchor="start" xml:space="preserve" style="white-space:pre">55%</text>
<rect x="399" y="203.16" width="15.72" height="7.8" fill="#ED7835"/>
<text x="416.72" y="210.06" font-size="7.65" fill="#000" text-anchor="start" xml:space="preserve" style="white-space:pre">15%  (34%)</text>
<rect x="399" y="212.13" width="2.13" height="7.8" fill="#ED7835"/>
<text x="403.13" y="219.03" font-size="7.65" fill="#000" text-anchor="start" xml:space="preserve" style="white-space:pre">2%  (5%)</text>
<rect x="399" y="221.09" width="13.59" height="7.8" fill="#ED7835"/>
<text x="414.59" y="228" font-size="7.65" fill="#000" text-anchor="start" xml:space="preserve" style="white-space:pre">13%  (30%)</text>
<rect x="399" y="239.03" width="4.16" height="7.8" fill="#ED7835"/>
<text x="405.16" y="245.93" font-size="7.65" fill="#000" text-anchor="start" xml:space="preserve" style="white-space:pre">4%  (9%)</text>
<rect x="399" y="247.99" width="1.01" height="7.8" fill="#ED7835"/>
<text x="402.01" y="254.89" font-size="7.65" fill="#000" text-anchor="start" xml:space="preserve" style="white-space:pre">1.0%  (2%)</text>
<rect x="399" y="256.96" width="1.01" height="7.8" fill="#ED7835"/>
<text x="402.01" y="263.86" font-size="7.65" fill="#000" text-anchor="start" xml:space="preserve" style="white-space:pre">1.0%  (2%)</text>
<rect x="399" y="265.92" width="1.01" height="7.8" fill="#ED7835"/>
<text x="402.01" y="272.82" font-size="7.65" fill="#000" text-anchor="start" xml:space="preserve" style="white-space:pre">1.0%  (2%)</text>
<rect x="399" y="274.88" width="2.13" height="7.8" fill="#ED7835"/>
<text x="403.13" y="281.78" font-size="7.65" fill="#000" text-anchor="start" xml:space="preserve" style="white-space:pre">2%  (5%)</text>
<rect x="399" y="283.85" width="2.13" height="7.8" fill="#ED7835"/>
<text x="403.13" y="290.75" font-size="7.65" fill="#000" text-anchor="start" xml:space="preserve" style="white-space:pre">2%  (5%)</text>
<rect x="399" y="346.61" width="6.29" height="7.8" fill="#ED7835"/>
<text x="407.29" y="353.5" font-size="7.65" fill="#000" text-anchor="start" xml:space="preserve" style="white-space:pre">6%  (14%)</text>
<rect x="394.06" y="193.2" width="111.3" height="162.2" fill="none" stroke="#A6A6A6" stroke-width="0.8"/>
<line x1="399" y1="355.4" x2="399" y2="358.4" stroke="#262626" stroke-width="1.1"/>
<text transform="translate(399 365.7) scale(0.96 1)" font-size="7.9" fill="#404040" text-anchor="middle">0</text>
<line x1="424.36" y1="355.4" x2="424.36" y2="358.4" stroke="#262626" stroke-width="1.1"/>
<text transform="translate(424.36 365.7) scale(0.96 1)" font-size="7.9" fill="#404040" text-anchor="middle">25</text>
<line x1="449.71" y1="355.4" x2="449.71" y2="358.4" stroke="#262626" stroke-width="1.1"/>
<text transform="translate(449.71 365.7) scale(0.96 1)" font-size="7.9" fill="#404040" text-anchor="middle">50</text>
<line x1="475.06" y1="355.4" x2="475.06" y2="358.4" stroke="#262626" stroke-width="1.1"/>
<text transform="translate(475.06 365.7) scale(0.96 1)" font-size="7.9" fill="#404040" text-anchor="middle">75</text>
<line x1="500.42" y1="355.4" x2="500.42" y2="358.4" stroke="#262626" stroke-width="1.1"/>
<text transform="translate(500.42 365.7) scale(0.96 1)" font-size="7.9" fill="#404040" text-anchor="middle">100</text>
<rect x="510.68" y="7.4" width="111.3" height="17.1" fill="#D9D9D9" stroke="#A6A6A6" stroke-width="0.8"/>
<text x="566.33" y="19.8" font-size="10.7" fill="#1A1A1A" text-anchor="middle">MSKCC Metastasis</text>
<rect x="510.68" y="24.5" width="111.3" height="162.95" fill="#F2F2F2"/>
<line x1="528.53" y1="24.5" x2="528.53" y2="187.45" stroke="#FFFFFF" stroke-width="0.55"/>
<line x1="553.88" y1="24.5" x2="553.88" y2="187.45" stroke="#FFFFFF" stroke-width="0.55"/>
<line x1="579.24" y1="24.5" x2="579.24" y2="187.45" stroke="#FFFFFF" stroke-width="0.55"/>
<line x1="604.59" y1="24.5" x2="604.59" y2="187.45" stroke="#FFFFFF" stroke-width="0.55"/>
<line x1="510.68" y1="30.1" x2="621.98" y2="30.1" stroke="#FFFFFF" stroke-width="1"/>
<line x1="510.68" y1="39.08" x2="621.98" y2="39.08" stroke="#FFFFFF" stroke-width="1"/>
<line x1="510.68" y1="48.06" x2="621.98" y2="48.06" stroke="#FFFFFF" stroke-width="1"/>
<line x1="510.68" y1="57.04" x2="621.98" y2="57.04" stroke="#FFFFFF" stroke-width="1"/>
<line x1="510.68" y1="66.02" x2="621.98" y2="66.02" stroke="#FFFFFF" stroke-width="1"/>
<line x1="510.68" y1="75" x2="621.98" y2="75" stroke="#FFFFFF" stroke-width="1"/>
<line x1="510.68" y1="83.98" x2="621.98" y2="83.98" stroke="#FFFFFF" stroke-width="1"/>
<line x1="510.68" y1="92.96" x2="621.98" y2="92.96" stroke="#FFFFFF" stroke-width="1"/>
<line x1="510.68" y1="101.94" x2="621.98" y2="101.94" stroke="#FFFFFF" stroke-width="1"/>
<line x1="510.68" y1="110.92" x2="621.98" y2="110.92" stroke="#FFFFFF" stroke-width="1"/>
<line x1="510.68" y1="119.9" x2="621.98" y2="119.9" stroke="#FFFFFF" stroke-width="1"/>
<line x1="510.68" y1="128.88" x2="621.98" y2="128.88" stroke="#FFFFFF" stroke-width="1"/>
<line x1="510.68" y1="137.86" x2="621.98" y2="137.86" stroke="#FFFFFF" stroke-width="1"/>
<line x1="510.68" y1="146.84" x2="621.98" y2="146.84" stroke="#FFFFFF" stroke-width="1"/>
<line x1="510.68" y1="155.82" x2="621.98" y2="155.82" stroke="#FFFFFF" stroke-width="1"/>
<line x1="510.68" y1="164.8" x2="621.98" y2="164.8" stroke="#FFFFFF" stroke-width="1"/>
<line x1="510.68" y1="173.78" x2="621.98" y2="173.78" stroke="#FFFFFF" stroke-width="1"/>
<line x1="510.68" y1="182.76" x2="621.98" y2="182.76" stroke="#FFFFFF" stroke-width="1"/>
<line x1="515.85" y1="24.5" x2="515.85" y2="187.45" stroke="#FFFFFF" stroke-width="1"/>
<line x1="541.21" y1="24.5" x2="541.21" y2="187.45" stroke="#FFFFFF" stroke-width="1"/>
<line x1="566.56" y1="24.5" x2="566.56" y2="187.45" stroke="#FFFFFF" stroke-width="1"/>
<line x1="591.91" y1="24.5" x2="591.91" y2="187.45" stroke="#FFFFFF" stroke-width="1"/>
<line x1="617.27" y1="24.5" x2="617.27" y2="187.45" stroke="#FFFFFF" stroke-width="1"/>
<rect x="515.85" y="26.2" width="59.84" height="7.8" fill="#D13818"/>
<text x="577.69" y="33.1" font-size="7.65" fill="#000" text-anchor="start" xml:space="preserve" style="white-space:pre">59%</text>
<rect x="515.85" y="35.18" width="9.94" height="7.8" fill="#D13818"/>
<text x="527.79" y="42.08" font-size="7.65" fill="#000" text-anchor="start" xml:space="preserve" style="white-space:pre">10%  (24%)</text>
<rect x="515.85" y="44.16" width="9.13" height="7.8" fill="#D13818"/>
<text x="526.98" y="51.06" font-size="7.65" fill="#000" text-anchor="start" xml:space="preserve" style="white-space:pre">9%  (22%)</text>
<rect x="515.85" y="53.14" width="6.69" height="7.8" fill="#D13818"/>
<text x="524.54" y="60.04" font-size="7.65" fill="#000" text-anchor="start" xml:space="preserve" style="white-space:pre">7%  (16%)</text>
<rect x="515.85" y="62.12" width="4.16" height="7.8" fill="#D13818"/>
<text x="522.01" y="69.02" font-size="7.65" fill="#000" text-anchor="start" xml:space="preserve" style="white-space:pre">4%  (10%)</text>
<rect x="515.85" y="71.1" width="2.13" height="7.8" fill="#D13818"/>
<text x="519.98" y="78" font-size="7.65" fill="#000" text-anchor="start" xml:space="preserve" style="white-space:pre">2%  (5%)</text>
<rect x="515.85" y="80.08" width="2.54" height="7.8" fill="#D13818"/>
<text x="520.39" y="86.98" font-size="7.65" fill="#000" text-anchor="start" xml:space="preserve" style="white-space:pre">3%  (6%)</text>
<rect x="515.85" y="89.06" width="2.13" height="7.8" fill="#D13818"/>
<text x="519.98" y="95.96" font-size="7.65" fill="#000" text-anchor="start" xml:space="preserve" style="white-space:pre">2%  (5%)</text>
<rect x="515.85" y="98.04" width="1.22" height="7.8" fill="#D13818"/>
<text x="519.07" y="104.94" font-size="7.65" fill="#000" text-anchor="start" xml:space="preserve" style="white-space:pre">1.2%  (3%)</text>
<rect x="515.85" y="107.02" width="0.2" height="7.8" fill="#D13818"/>
<text x="518.05" y="113.92" font-size="7.65" fill="#000" text-anchor="start" xml:space="preserve" style="white-space:pre">0.2%  (0.5%)</text>
<rect x="515.85" y="116" width="0.2" height="7.8" fill="#D13818"/>
<text x="518.05" y="122.9" font-size="7.65" fill="#000" text-anchor="start" xml:space="preserve" style="white-space:pre">0.2%  (0.5%)</text>
<rect x="515.85" y="124.98" width="0.61" height="7.8" fill="#D13818"/>
<text x="518.46" y="131.88" font-size="7.65" fill="#000" text-anchor="start" xml:space="preserve" style="white-space:pre">0.6%  (1.4%)</text>
<rect x="515.85" y="133.96" width="0.41" height="7.8" fill="#D13818"/>
<text x="518.26" y="140.86" font-size="7.65" fill="#000" text-anchor="start" xml:space="preserve" style="white-space:pre">0.4%  (1.0%)</text>
<rect x="515.85" y="142.94" width="0.41" height="7.8" fill="#D13818"/>
<text x="518.26" y="149.84" font-size="7.65" fill="#000" text-anchor="start" xml:space="preserve" style="white-space:pre">0.4%  (1.0%)</text>
<rect x="515.85" y="151.92" width="0.41" height="7.8" fill="#D13818"/>
<text x="518.26" y="158.82" font-size="7.65" fill="#000" text-anchor="start" xml:space="preserve" style="white-space:pre">0.4%  (1.0%)</text>
<rect x="515.85" y="160.9" width="0.2" height="7.8" fill="#D13818"/>
<text x="518.05" y="167.8" font-size="7.65" fill="#000" text-anchor="start" xml:space="preserve" style="white-space:pre">0.2%  (0.5%)</text>
<rect x="515.85" y="178.86" width="1.22" height="7.8" fill="#D13818"/>
<text x="519.07" y="185.76" font-size="7.65" fill="#000" text-anchor="start" xml:space="preserve" style="white-space:pre">1.2%  (3%)</text>
<rect x="510.68" y="24.5" width="111.3" height="162.95" fill="none" stroke="#A6A6A6" stroke-width="0.8"/>
<rect x="510.68" y="193.2" width="111.3" height="162.2" fill="#F2F2F2"/>
<line x1="528.53" y1="193.2" x2="528.53" y2="355.4" stroke="#FFFFFF" stroke-width="0.55"/>
<line x1="553.88" y1="193.2" x2="553.88" y2="355.4" stroke="#FFFFFF" stroke-width="0.55"/>
<line x1="579.24" y1="193.2" x2="579.24" y2="355.4" stroke="#FFFFFF" stroke-width="0.55"/>
<line x1="604.59" y1="193.2" x2="604.59" y2="355.4" stroke="#FFFFFF" stroke-width="0.55"/>
<line x1="510.68" y1="198.1" x2="621.98" y2="198.1" stroke="#FFFFFF" stroke-width="1"/>
<line x1="510.68" y1="207.06" x2="621.98" y2="207.06" stroke="#FFFFFF" stroke-width="1"/>
<line x1="510.68" y1="216.03" x2="621.98" y2="216.03" stroke="#FFFFFF" stroke-width="1"/>
<line x1="510.68" y1="225" x2="621.98" y2="225" stroke="#FFFFFF" stroke-width="1"/>
<line x1="510.68" y1="233.96" x2="621.98" y2="233.96" stroke="#FFFFFF" stroke-width="1"/>
<line x1="510.68" y1="242.93" x2="621.98" y2="242.93" stroke="#FFFFFF" stroke-width="1"/>
<line x1="510.68" y1="251.89" x2="621.98" y2="251.89" stroke="#FFFFFF" stroke-width="1"/>
<line x1="510.68" y1="260.86" x2="621.98" y2="260.86" stroke="#FFFFFF" stroke-width="1"/>
<line x1="510.68" y1="269.82" x2="621.98" y2="269.82" stroke="#FFFFFF" stroke-width="1"/>
<line x1="510.68" y1="278.78" x2="621.98" y2="278.78" stroke="#FFFFFF" stroke-width="1"/>
<line x1="510.68" y1="287.75" x2="621.98" y2="287.75" stroke="#FFFFFF" stroke-width="1"/>
<line x1="510.68" y1="296.71" x2="621.98" y2="296.71" stroke="#FFFFFF" stroke-width="1"/>
<line x1="510.68" y1="305.68" x2="621.98" y2="305.68" stroke="#FFFFFF" stroke-width="1"/>
<line x1="510.68" y1="314.64" x2="621.98" y2="314.64" stroke="#FFFFFF" stroke-width="1"/>
<line x1="510.68" y1="323.61" x2="621.98" y2="323.61" stroke="#FFFFFF" stroke-width="1"/>
<line x1="510.68" y1="332.57" x2="621.98" y2="332.57" stroke="#FFFFFF" stroke-width="1"/>
<line x1="510.68" y1="341.54" x2="621.98" y2="341.54" stroke="#FFFFFF" stroke-width="1"/>
<line x1="510.68" y1="350.5" x2="621.98" y2="350.5" stroke="#FFFFFF" stroke-width="1"/>
<line x1="515.85" y1="193.2" x2="515.85" y2="355.4" stroke="#FFFFFF" stroke-width="1"/>
<line x1="541.21" y1="193.2" x2="541.21" y2="355.4" stroke="#FFFFFF" stroke-width="1"/>
<line x1="566.56" y1="193.2" x2="566.56" y2="355.4" stroke="#FFFFFF" stroke-width="1"/>
<line x1="591.91" y1="193.2" x2="591.91" y2="355.4" stroke="#FFFFFF" stroke-width="1"/>
<line x1="617.27" y1="193.2" x2="617.27" y2="355.4" stroke="#FFFFFF" stroke-width="1"/>
<rect x="515.85" y="194.2" width="64.1" height="7.8" fill="#D13818"/>
<text x="581.95" y="201.1" font-size="7.65" fill="#000" text-anchor="start" xml:space="preserve" style="white-space:pre">63%</text>
<rect x="515.85" y="212.13" width="5.38" height="7.8" fill="#D13818"/>
<text x="523.23" y="219.03" font-size="7.65" fill="#000" text-anchor="start" xml:space="preserve" style="white-space:pre">5%  (14%)</text>
<rect x="515.85" y="221.09" width="16.02" height="7.8" fill="#D13818"/>
<text x="533.87" y="228" font-size="7.65" fill="#000" text-anchor="start" xml:space="preserve" style="white-space:pre">16%  (43%)</text>
<rect x="515.85" y="239.03" width="5.38" height="7.8" fill="#D13818"/>
<text x="523.23" y="245.93" font-size="7.65" fill="#000" text-anchor="start" xml:space="preserve" style="white-space:pre">5%  (14%)</text>
<rect x="515.85" y="247.99" width="5.38" height="7.8" fill="#D13818"/>
<text x="523.23" y="254.89" font-size="7.65" fill="#000" text-anchor="start" xml:space="preserve" style="white-space:pre">5%  (14%)</text>
<rect x="515.85" y="346.61" width="10.65" height="7.8" fill="#D13818"/>
<text x="528.5" y="353.5" font-size="7.65" fill="#000" text-anchor="start" xml:space="preserve" style="white-space:pre">11%  (29%)</text>
<rect x="510.68" y="193.2" width="111.3" height="162.2" fill="none" stroke="#A6A6A6" stroke-width="0.8"/>
<line x1="515.85" y1="355.4" x2="515.85" y2="358.4" stroke="#262626" stroke-width="1.1"/>
<text transform="translate(515.85 365.7) scale(0.96 1)" font-size="7.9" fill="#404040" text-anchor="middle">0</text>
<line x1="541.21" y1="355.4" x2="541.21" y2="358.4" stroke="#262626" stroke-width="1.1"/>
<text transform="translate(541.21 365.7) scale(0.96 1)" font-size="7.9" fill="#404040" text-anchor="middle">25</text>
<line x1="566.56" y1="355.4" x2="566.56" y2="358.4" stroke="#262626" stroke-width="1.1"/>
<text transform="translate(566.56 365.7) scale(0.96 1)" font-size="7.9" fill="#404040" text-anchor="middle">50</text>
<line x1="591.91" y1="355.4" x2="591.91" y2="358.4" stroke="#262626" stroke-width="1.1"/>
<text transform="translate(591.91 365.7) scale(0.96 1)" font-size="7.9" fill="#404040" text-anchor="middle">75</text>
<line x1="617.27" y1="355.4" x2="617.27" y2="358.4" stroke="#262626" stroke-width="1.1"/>
<text transform="translate(617.27 365.7) scale(0.96 1)" font-size="7.9" fill="#404040" text-anchor="middle">100</text>
<rect x="621.98" y="24.5" width="18.62" height="162.95" fill="#D9D9D9" stroke="#A6A6A6" stroke-width="0.8"/>
<text x="627.69" y="105.97" font-size="10.7" fill="#1A1A1A" text-anchor="middle" transform="rotate(90 627.69 105.97)">MSS</text>
<rect x="621.98" y="193.2" width="18.62" height="162.2" fill="#D9D9D9" stroke="#A6A6A6" stroke-width="0.8"/>
<text x="627.69" y="274.3" font-size="10.7" fill="#1A1A1A" text-anchor="middle" transform="rotate(90 627.69 274.3)">MSI/HYPER</text>
<text x="8.5" y="190.2" font-size="9.5" fill="#000" text-anchor="middle" transform="rotate(-90 8.5 190.2)"><tspan font-style="italic">KRAS</tspan> mutation</text>
<text x="333.3" y="377.8" font-size="9.7" fill="#000" text-anchor="middle">Mutated Cases (%)</text>
<rect x="44" y="399.6" width="111.45" height="17.8" fill="#D9D9D9" stroke="#A6A6A6" stroke-width="0.8"/>
<text x="99.72" y="412.8" font-size="10.7" fill="#1A1A1A" text-anchor="middle">ALL</text>
<rect x="44" y="417.4" width="111.45" height="171" fill="#F2F2F2"/>
<line x1="61.45" y1="417.4" x2="61.45" y2="588.4" stroke="#FFFFFF" stroke-width="0.55"/>
<line x1="86.9" y1="417.4" x2="86.9" y2="588.4" stroke="#FFFFFF" stroke-width="0.55"/>
<line x1="112.35" y1="417.4" x2="112.35" y2="588.4" stroke="#FFFFFF" stroke-width="0.55"/>
<line x1="137.8" y1="417.4" x2="137.8" y2="588.4" stroke="#FFFFFF" stroke-width="0.55"/>
<line x1="44" y1="423.3" x2="155.45" y2="423.3" stroke="#FFFFFF" stroke-width="1"/>
<line x1="44" y1="432.7" x2="155.45" y2="432.7" stroke="#FFFFFF" stroke-width="1"/>
<line x1="44" y1="442.1" x2="155.45" y2="442.1" stroke="#FFFFFF" stroke-width="1"/>
<line x1="44" y1="451.5" x2="155.45" y2="451.5" stroke="#FFFFFF" stroke-width="1"/>
<line x1="44" y1="460.9" x2="155.45" y2="460.9" stroke="#FFFFFF" stroke-width="1"/>
<line x1="44" y1="470.3" x2="155.45" y2="470.3" stroke="#FFFFFF" stroke-width="1"/>
<line x1="44" y1="479.7" x2="155.45" y2="479.7" stroke="#FFFFFF" stroke-width="1"/>
<line x1="44" y1="489.1" x2="155.45" y2="489.1" stroke="#FFFFFF" stroke-width="1"/>
<line x1="44" y1="498.5" x2="155.45" y2="498.5" stroke="#FFFFFF" stroke-width="1"/>
<line x1="44" y1="507.9" x2="155.45" y2="507.9" stroke="#FFFFFF" stroke-width="1"/>
<line x1="44" y1="517.3" x2="155.45" y2="517.3" stroke="#FFFFFF" stroke-width="1"/>
<line x1="44" y1="526.7" x2="155.45" y2="526.7" stroke="#FFFFFF" stroke-width="1"/>
<line x1="44" y1="536.1" x2="155.45" y2="536.1" stroke="#FFFFFF" stroke-width="1"/>
<line x1="44" y1="545.5" x2="155.45" y2="545.5" stroke="#FFFFFF" stroke-width="1"/>
<line x1="44" y1="554.9" x2="155.45" y2="554.9" stroke="#FFFFFF" stroke-width="1"/>
<line x1="44" y1="564.3" x2="155.45" y2="564.3" stroke="#FFFFFF" stroke-width="1"/>
<line x1="44" y1="573.7" x2="155.45" y2="573.7" stroke="#FFFFFF" stroke-width="1"/>
<line x1="44" y1="583.1" x2="155.45" y2="583.1" stroke="#FFFFFF" stroke-width="1"/>
<line x1="48.73" y1="417.4" x2="48.73" y2="588.4" stroke="#FFFFFF" stroke-width="1"/>
<line x1="74.17" y1="417.4" x2="74.17" y2="588.4" stroke="#FFFFFF" stroke-width="1"/>
<line x1="99.62" y1="417.4" x2="99.62" y2="588.4" stroke="#FFFFFF" stroke-width="1"/>
<line x1="125.08" y1="417.4" x2="125.08" y2="588.4" stroke="#FFFFFF" stroke-width="1"/>
<line x1="150.53" y1="417.4" x2="150.53" y2="588.4" stroke="#FFFFFF" stroke-width="1"/>
<line x1="99.62" y1="588.4" x2="99.62" y2="417.4" stroke="#000" stroke-width="0.95" stroke-dasharray="4.2 3.36" stroke-dashoffset="0.5"/>
<rect x="103.42" y="420.45" width="12.61" height="5.7" fill="#D97F2E"/>
<rect x="83.09" y="429.85" width="20.67" height="5.7" fill="#BFBFBF"/>
<rect x="55.42" y="439.25" width="24.53" height="5.7" fill="#C62E29"/>
<rect x="90.45" y="448.65" width="22.42" height="5.7" fill="#BFBFBF"/>
<rect x="49.11" y="458.05" width="25.75" height="5.7" fill="#C62E29"/>
<rect x="99.56" y="467.45" width="29.26" height="5.7" fill="#BFBFBF"/>
<rect x="56.99" y="476.85" width="50.98" height="5.7" fill="#BFBFBF"/>
<rect x="49.28" y="486.25" width="51.5" height="5.7" fill="#BFBFBF"/>
<rect x="56.47" y="495.65" width="69.37" height="5.7" fill="#BFBFBF"/>
<rect x="84.15" y="505.05" width="55.36" height="5.7" fill="#BFBFBF"/>
<rect x="116.2" y="514.45" width="30.66" height="5.7" fill="#D97F2E"/>
<rect x="49.11" y="523.85" width="72.88" height="5.7" fill="#BFBFBF"/>
<rect x="49.11" y="533.25" width="75.85" height="5.7" fill="#BFBFBF"/>
<rect x="65.05" y="542.65" width="76.91" height="5.7" fill="#BFBFBF"/>
<rect x="49.11" y="552.05" width="87.77" height="5.7" fill="#BFBFBF"/>
<rect x="49.11" y="561.45" width="90.92" height="5.7" fill="#BFBFBF"/>
<rect x="49.11" y="570.85" width="90.92" height="5.7" fill="#BFBFBF"/>
<rect x="118.13" y="580.25" width="22.77" height="5.7" fill="#C62E29"/>
<circle cx="109.72" cy="423.3" r="2.05" fill="#000"/>
<circle cx="93.43" cy="432.7" r="2.05" fill="#000"/>
<circle cx="65.23" cy="442.1" r="2.05" fill="#000"/>
<circle cx="102.19" cy="451.5" r="2.05" fill="#000"/>
<circle cx="48.93" cy="460.9" r="2.05" fill="#000"/>
<circle cx="115.68" cy="470.3" r="2.05" fill="#000"/>
<circle cx="79.94" cy="479.7" r="2.05" fill="#000"/>
<circle cx="63.82" cy="489.1" r="2.05" fill="#000"/>
<circle cx="91.5" cy="498.5" r="2.05" fill="#000"/>
<circle cx="120.06" cy="507.9" r="2.05" fill="#000"/>
<circle cx="137.75" cy="517.3" r="2.05" fill="#000"/>
<circle cx="48.93" cy="526.7" r="2.05" fill="#000"/>
<circle cx="48.93" cy="536.1" r="2.05" fill="#000"/>
<circle cx="115.85" cy="545.5" r="2.05" fill="#000"/>
<circle cx="48.93" cy="554.9" r="2.05" fill="#000"/>
<circle cx="48.93" cy="564.3" r="2.05" fill="#000"/>
<circle cx="48.93" cy="573.7" r="2.05" fill="#000"/>
<circle cx="131.97" cy="583.1" r="2.05" fill="#000"/>
<text x="49" y="426" font-size="7.5" fill="#000" text-anchor="start">MSS</text>
<text x="150.55" y="426" font-size="7.5" fill="#000" text-anchor="end">MSI</text>
<rect x="44" y="417.4" width="111.45" height="171" fill="none" stroke="#A6A6A6" stroke-width="0.8"/>
<line x1="41" y1="423.3" x2="44" y2="423.3" stroke="#262626" stroke-width="1.1"/>
<text transform="translate(39.3 426.4) scale(0.96 1)" font-size="7.9" fill="#404040" text-anchor="end">WT</text>
<line x1="41" y1="432.7" x2="44" y2="432.7" stroke="#262626" stroke-width="1.1"/>
<text transform="translate(39.3 435.8) scale(0.96 1)" font-size="7.9" fill="#404040" text-anchor="end">G12D</text>
<line x1="41" y1="442.1" x2="44" y2="442.1" stroke="#262626" stroke-width="1.1"/>
<text transform="translate(39.3 445.2) scale(0.96 1)" font-size="7.9" fill="#404040" text-anchor="end">G12V</text>
<line x1="41" y1="451.5" x2="44" y2="451.5" stroke="#262626" stroke-width="1.1"/>
<text transform="translate(39.3 454.6) scale(0.96 1)" font-size="7.9" fill="#404040" text-anchor="end">G13D</text>
<line x1="41" y1="460.9" x2="44" y2="460.9" stroke="#262626" stroke-width="1.1"/>
<text transform="translate(39.3 464) scale(0.96 1)" font-size="7.9" fill="#404040" text-anchor="end">G12C</text>
<line x1="41" y1="470.3" x2="44" y2="470.3" stroke="#262626" stroke-width="1.1"/>
<text transform="translate(39.3 473.4) scale(0.96 1)" font-size="7.9" fill="#404040" text-anchor="end">A146T</text>
<line x1="41" y1="479.7" x2="44" y2="479.7" stroke="#262626" stroke-width="1.1"/>
<text transform="translate(39.3 482.8) scale(0.96 1)" font-size="7.9" fill="#404040" text-anchor="end">G12A</text>
<line x1="41" y1="489.1" x2="44" y2="489.1" stroke="#262626" stroke-width="1.1"/>
<text transform="translate(39.3 492.2) scale(0.96 1)" font-size="7.9" fill="#404040" text-anchor="end">G12S</text>
<line x1="41" y1="498.5" x2="44" y2="498.5" stroke="#262626" stroke-width="1.1"/>
<text transform="translate(39.3 501.6) scale(0.96 1)" font-size="7.9" fill="#404040" text-anchor="end">Q61H</text>
<line x1="41" y1="507.9" x2="44" y2="507.9" stroke="#262626" stroke-width="1.1"/>
<text transform="translate(39.3 511) scale(0.96 1)" font-size="7.9" fill="#404040" text-anchor="end">K117N</text>
<line x1="41" y1="517.3" x2="44" y2="517.3" stroke="#262626" stroke-width="1.1"/>
<text transform="translate(39.3 520.4) scale(0.96 1)" font-size="7.9" fill="#404040" text-anchor="end">Q61K</text>
<line x1="41" y1="526.7" x2="44" y2="526.7" stroke="#262626" stroke-width="1.1"/>
<text transform="translate(39.3 529.8) scale(0.96 1)" font-size="7.9" fill="#404040" text-anchor="end">G12R</text>
<line x1="41" y1="536.1" x2="44" y2="536.1" stroke="#262626" stroke-width="1.1"/>
<text transform="translate(39.3 539.2) scale(0.96 1)" font-size="7.9" fill="#404040" text-anchor="end">A146V</text>
<line x1="41" y1="545.5" x2="44" y2="545.5" stroke="#262626" stroke-width="1.1"/>
<text transform="translate(39.3 548.6) scale(0.96 1)" font-size="7.9" fill="#404040" text-anchor="end">Q61R</text>
<line x1="41" y1="554.9" x2="44" y2="554.9" stroke="#262626" stroke-width="1.1"/>
<text transform="translate(39.3 558) scale(0.96 1)" font-size="7.9" fill="#404040" text-anchor="end">G13C</text>
<line x1="41" y1="564.3" x2="44" y2="564.3" stroke="#262626" stroke-width="1.1"/>
<text transform="translate(39.3 567.4) scale(0.96 1)" font-size="7.9" fill="#404040" text-anchor="end">D33E</text>
<line x1="41" y1="573.7" x2="44" y2="573.7" stroke="#262626" stroke-width="1.1"/>
<text transform="translate(39.3 576.8) scale(0.96 1)" font-size="7.9" fill="#404040" text-anchor="end">Q61L</text>
<line x1="41" y1="583.1" x2="44" y2="583.1" stroke="#262626" stroke-width="1.1"/>
<text transform="translate(39.3 586.2) scale(0.96 1)" font-size="7.9" fill="#404040" text-anchor="end">OTHER</text>
<line x1="48.73" y1="588.4" x2="48.73" y2="591.4" stroke="#262626" stroke-width="1.1"/>
<text transform="translate(48.73 598.9) scale(0.96 1)" font-size="7.9" fill="#404040" text-anchor="middle">-1.0</text>
<line x1="74.17" y1="588.4" x2="74.17" y2="591.4" stroke="#262626" stroke-width="1.1"/>
<text transform="translate(74.17 598.9) scale(0.96 1)" font-size="7.9" fill="#404040" text-anchor="middle">-0.5</text>
<line x1="99.62" y1="588.4" x2="99.62" y2="591.4" stroke="#262626" stroke-width="1.1"/>
<text transform="translate(99.62 598.9) scale(0.96 1)" font-size="7.9" fill="#404040" text-anchor="middle">0.0</text>
<line x1="125.08" y1="588.4" x2="125.08" y2="591.4" stroke="#262626" stroke-width="1.1"/>
<text transform="translate(125.08 598.9) scale(0.96 1)" font-size="7.9" fill="#404040" text-anchor="middle">0.5</text>
<line x1="150.53" y1="588.4" x2="150.53" y2="591.4" stroke="#262626" stroke-width="1.1"/>
<text transform="translate(150.53 598.9) scale(0.96 1)" font-size="7.9" fill="#404040" text-anchor="middle">1.0</text>
<rect x="160.88" y="399.6" width="111.45" height="17.8" fill="#D9D9D9" stroke="#A6A6A6" stroke-width="0.8"/>
<text x="216.6" y="412.8" font-size="10.7" fill="#1A1A1A" text-anchor="middle">DFCI Primary</text>
<rect x="160.88" y="417.4" width="111.45" height="171" fill="#F2F2F2"/>
<line x1="178.32" y1="417.4" x2="178.32" y2="588.4" stroke="#FFFFFF" stroke-width="0.55"/>
<line x1="203.78" y1="417.4" x2="203.78" y2="588.4" stroke="#FFFFFF" stroke-width="0.55"/>
<line x1="229.22" y1="417.4" x2="229.22" y2="588.4" stroke="#FFFFFF" stroke-width="0.55"/>
<line x1="254.68" y1="417.4" x2="254.68" y2="588.4" stroke="#FFFFFF" stroke-width="0.55"/>
<line x1="160.88" y1="423.3" x2="272.32" y2="423.3" stroke="#FFFFFF" stroke-width="1"/>
<line x1="160.88" y1="432.7" x2="272.32" y2="432.7" stroke="#FFFFFF" stroke-width="1"/>
<line x1="160.88" y1="442.1" x2="272.32" y2="442.1" stroke="#FFFFFF" stroke-width="1"/>
<line x1="160.88" y1="451.5" x2="272.32" y2="451.5" stroke="#FFFFFF" stroke-width="1"/>
<line x1="160.88" y1="460.9" x2="272.32" y2="460.9" stroke="#FFFFFF" stroke-width="1"/>
<line x1="160.88" y1="470.3" x2="272.32" y2="470.3" stroke="#FFFFFF" stroke-width="1"/>
<line x1="160.88" y1="479.7" x2="272.32" y2="479.7" stroke="#FFFFFF" stroke-width="1"/>
<line x1="160.88" y1="489.1" x2="272.32" y2="489.1" stroke="#FFFFFF" stroke-width="1"/>
<line x1="160.88" y1="498.5" x2="272.32" y2="498.5" stroke="#FFFFFF" stroke-width="1"/>
<line x1="160.88" y1="507.9" x2="272.32" y2="507.9" stroke="#FFFFFF" stroke-width="1"/>
<line x1="160.88" y1="517.3" x2="272.32" y2="517.3" stroke="#FFFFFF" stroke-width="1"/>
<line x1="160.88" y1="526.7" x2="272.32" y2="526.7" stroke="#FFFFFF" stroke-width="1"/>
<line x1="160.88" y1="536.1" x2="272.32" y2="536.1" stroke="#FFFFFF" stroke-width="1"/>
<line x1="160.88" y1="545.5" x2="272.32" y2="545.5" stroke="#FFFFFF" stroke-width="1"/>
<line x1="160.88" y1="554.9" x2="272.32" y2="554.9" stroke="#FFFFFF" stroke-width="1"/>
<line x1="160.88" y1="564.3" x2="272.32" y2="564.3" stroke="#FFFFFF" stroke-width="1"/>
<line x1="160.88" y1="573.7" x2="272.32" y2="573.7" stroke="#FFFFFF" stroke-width="1"/>
<line x1="160.88" y1="583.1" x2="272.32" y2="583.1" stroke="#FFFFFF" stroke-width="1"/>
<line x1="165.6" y1="417.4" x2="165.6" y2="588.4" stroke="#FFFFFF" stroke-width="1"/>
<line x1="191.05" y1="417.4" x2="191.05" y2="588.4" stroke="#FFFFFF" stroke-width="1"/>
<line x1="216.5" y1="417.4" x2="216.5" y2="588.4" stroke="#FFFFFF" stroke-width="1"/>
<line x1="241.95" y1="417.4" x2="241.95" y2="588.4" stroke="#FFFFFF" stroke-width="1"/>
<line x1="267.4" y1="417.4" x2="267.4" y2="588.4" stroke="#FFFFFF" stroke-width="1"/>
<line x1="216.5" y1="588.4" x2="216.5" y2="417.4" stroke="#000" stroke-width="0.95" stroke-dasharray="4.2 3.36" stroke-dashoffset="0.5"/>
<rect x="227.12" y="420.45" width="22.77" height="5.7" fill="#D9562B"/>
<rect x="167.91" y="429.85" width="39.07" height="5.7" fill="#D97F2E"/>
<rect x="165.99" y="439.25" width="39.94" height="5.7" fill="#D97F2E"/>
<rect x="171.07" y="448.65" width="43.09" height="5.7" fill="#E8B33F"/>
<rect x="165.99" y="458.05" width="50.8" height="5.7" fill="#BFBFBF"/>
<rect x="193.49" y="467.45" width="66.39" height="5.7" fill="#BFBFBF"/>
<rect x="167.91" y="476.85" width="90.39" height="5.7" fill="#BFBFBF"/>
<rect x="165.99" y="486.25" width="78.31" height="5.7" fill="#BFBFBF"/>
<rect x="168.09" y="495.65" width="93.55" height="5.7" fill="#BFBFBF"/>
<rect x="165.99" y="505.05" width="91.97" height="5.7" fill="#BFBFBF"/>
<rect x="216.26" y="514.45" width="50.98" height="5.7" fill="#E8B33F"/>
<rect x="165.99" y="523.85" width="96.88" height="5.7" fill="#BFBFBF"/>
<rect x="165.99" y="533.25" width="96.88" height="5.7" fill="#BFBFBF"/>
<rect x="165.99" y="542.65" width="8.93" height="5.7" fill="#BFBFBF"/>
<rect x="165.99" y="561.45" width="96.88" height="5.7" fill="#BFBFBF"/>
<rect x="165.99" y="570.85" width="96.88" height="5.7" fill="#BFBFBF"/>
<rect x="205.93" y="580.25" width="55.18" height="5.7" fill="#BFBFBF"/>
<circle cx="239.56" cy="423.3" r="2.05" fill="#000"/>
<circle cx="180.88" cy="432.7" r="2.05" fill="#000"/>
<circle cx="165.81" cy="442.1" r="2.05" fill="#000"/>
<circle cx="188.06" cy="451.5" r="2.05" fill="#000"/>
<circle cx="165.81" cy="460.9" r="2.05" fill="#000"/>
<circle cx="237.99" cy="470.3" r="2.05" fill="#000"/>
<circle cx="216.61" cy="479.7" r="2.05" fill="#000"/>
<circle cx="165.81" cy="489.1" r="2.05" fill="#000"/>
<circle cx="223.97" cy="498.5" r="2.05" fill="#000"/>
<circle cx="165.81" cy="507.9" r="2.05" fill="#000"/>
<circle cx="259.71" cy="517.3" r="2.05" fill="#000"/>
<circle cx="165.81" cy="526.7" r="2.05" fill="#000"/>
<circle cx="165.81" cy="536.1" r="2.05" fill="#000"/>
<circle cx="165.81" cy="564.3" r="2.05" fill="#000"/>
<circle cx="165.81" cy="573.7" r="2.05" fill="#000"/>
<circle cx="243.59" cy="583.1" r="2.05" fill="#000"/>
<text x="165.88" y="426" font-size="7.5" fill="#000" text-anchor="start">MSS</text>
<text x="267.43" y="426" font-size="7.5" fill="#000" text-anchor="end">MSI</text>
<rect x="160.88" y="417.4" width="111.45" height="171" fill="none" stroke="#A6A6A6" stroke-width="0.8"/>
<line x1="165.6" y1="588.4" x2="165.6" y2="591.4" stroke="#262626" stroke-width="1.1"/>
<text transform="translate(165.6 598.9) scale(0.96 1)" font-size="7.9" fill="#404040" text-anchor="middle">-1.0</text>
<line x1="191.05" y1="588.4" x2="191.05" y2="591.4" stroke="#262626" stroke-width="1.1"/>
<text transform="translate(191.05 598.9) scale(0.96 1)" font-size="7.9" fill="#404040" text-anchor="middle">-0.5</text>
<line x1="216.5" y1="588.4" x2="216.5" y2="591.4" stroke="#262626" stroke-width="1.1"/>
<text transform="translate(216.5 598.9) scale(0.96 1)" font-size="7.9" fill="#404040" text-anchor="middle">0.0</text>
<line x1="241.95" y1="588.4" x2="241.95" y2="591.4" stroke="#262626" stroke-width="1.1"/>
<text transform="translate(241.95 598.9) scale(0.96 1)" font-size="7.9" fill="#404040" text-anchor="middle">0.5</text>
<line x1="267.4" y1="588.4" x2="267.4" y2="591.4" stroke="#262626" stroke-width="1.1"/>
<text transform="translate(267.4 598.9) scale(0.96 1)" font-size="7.9" fill="#404040" text-anchor="middle">1.0</text>
<rect x="277.75" y="399.6" width="111.45" height="17.8" fill="#D9D9D9" stroke="#A6A6A6" stroke-width="0.8"/>
<text x="333.48" y="412.8" font-size="10.7" fill="#1A1A1A" text-anchor="middle">TCGA Primary</text>
<rect x="277.75" y="417.4" width="111.45" height="171" fill="#F2F2F2"/>
<line x1="295.2" y1="417.4" x2="295.2" y2="588.4" stroke="#FFFFFF" stroke-width="0.55"/>
<line x1="320.65" y1="417.4" x2="320.65" y2="588.4" stroke="#FFFFFF" stroke-width="0.55"/>
<line x1="346.1" y1="417.4" x2="346.1" y2="588.4" stroke="#FFFFFF" stroke-width="0.55"/>
<line x1="371.55" y1="417.4" x2="371.55" y2="588.4" stroke="#FFFFFF" stroke-width="0.55"/>
<line x1="277.75" y1="423.3" x2="389.2" y2="423.3" stroke="#FFFFFF" stroke-width="1"/>
<line x1="277.75" y1="432.7" x2="389.2" y2="432.7" stroke="#FFFFFF" stroke-width="1"/>
<line x1="277.75" y1="442.1" x2="389.2" y2="442.1" stroke="#FFFFFF" stroke-width="1"/>
<line x1="277.75" y1="451.5" x2="389.2" y2="451.5" stroke="#FFFFFF" stroke-width="1"/>
<line x1="277.75" y1="460.9" x2="389.2" y2="460.9" stroke="#FFFFFF" stroke-width="1"/>
<line x1="277.75" y1="470.3" x2="389.2" y2="470.3" stroke="#FFFFFF" stroke-width="1"/>
<line x1="277.75" y1="479.7" x2="389.2" y2="479.7" stroke="#FFFFFF" stroke-width="1"/>
<line x1="277.75" y1="489.1" x2="389.2" y2="489.1" stroke="#FFFFFF" stroke-width="1"/>
<line x1="277.75" y1="498.5" x2="389.2" y2="498.5" stroke="#FFFFFF" stroke-width="1"/>
<line x1="277.75" y1="507.9" x2="389.2" y2="507.9" stroke="#FFFFFF" stroke-width="1"/>
<line x1="277.75" y1="517.3" x2="389.2" y2="517.3" stroke="#FFFFFF" stroke-width="1"/>
<line x1="277.75" y1="526.7" x2="389.2" y2="526.7" stroke="#FFFFFF" stroke-width="1"/>
<line x1="277.75" y1="536.1" x2="389.2" y2="536.1" stroke="#FFFFFF" stroke-width="1"/>
<line x1="277.75" y1="545.5" x2="389.2" y2="545.5" stroke="#FFFFFF" stroke-width="1"/>
<line x1="277.75" y1="554.9" x2="389.2" y2="554.9" stroke="#FFFFFF" stroke-width="1"/>
<line x1="277.75" y1="564.3" x2="389.2" y2="564.3" stroke="#FFFFFF" stroke-width="1"/>
<line x1="277.75" y1="573.7" x2="389.2" y2="573.7" stroke="#FFFFFF" stroke-width="1"/>
<line x1="277.75" y1="583.1" x2="389.2" y2="583.1" stroke="#FFFFFF" stroke-width="1"/>
<line x1="282.48" y1="417.4" x2="282.48" y2="588.4" stroke="#FFFFFF" stroke-width="1"/>
<line x1="307.93" y1="417.4" x2="307.93" y2="588.4" stroke="#FFFFFF" stroke-width="1"/>
<line x1="333.38" y1="417.4" x2="333.38" y2="588.4" stroke="#FFFFFF" stroke-width="1"/>
<line x1="358.82" y1="417.4" x2="358.82" y2="588.4" stroke="#FFFFFF" stroke-width="1"/>
<line x1="384.27" y1="417.4" x2="384.27" y2="588.4" stroke="#FFFFFF" stroke-width="1"/>
<line x1="333.38" y1="588.4" x2="333.38" y2="417.4" stroke="#000" stroke-width="0.95" stroke-dasharray="4.2 3.36" stroke-dashoffset="0.5"/>
<rect x="327.83" y="420.45" width="23.3" height="5.7" fill="#BFBFBF"/>
<rect x="319.07" y="429.85" width="35.56" height="5.7" fill="#BFBFBF"/>
<rect x="287.72" y="439.25" width="42.22" height="5.7" fill="#E8B33F"/>
<rect x="315.92" y="448.65" width="42.57" height="5.7" fill="#BFBFBF"/>
<rect x="282.81" y="458.05" width="56.06" height="5.7" fill="#BFBFBF"/>
<rect x="328.18" y="467.45" width="45.72" height="5.7" fill="#BFBFBF"/>
<rect x="282.81" y="476.85" width="67.45" height="5.7" fill="#BFBFBF"/>
<rect x="282.81" y="486.25" width="73.23" height="5.7" fill="#BFBFBF"/>
<rect x="282.81" y="495.65" width="88.29" height="5.7" fill="#BFBFBF"/>
<rect x="307.86" y="505.05" width="74.98" height="5.7" fill="#BFBFBF"/>
<rect x="315.22" y="514.45" width="68.67" height="5.7" fill="#BFBFBF"/>
<rect x="282.81" y="523.85" width="97.23" height="5.7" fill="#BFBFBF"/>
<rect x="282.81" y="533.25" width="100.91" height="5.7" fill="#BFBFBF"/>
<rect x="288.07" y="542.65" width="95.82" height="5.7" fill="#BFBFBF"/>
<rect x="282.81" y="552.05" width="97.23" height="5.7" fill="#BFBFBF"/>
<rect x="282.81" y="570.85" width="100.91" height="5.7" fill="#BFBFBF"/>
<rect x="307.34" y="580.25" width="66.39" height="5.7" fill="#BFBFBF"/>
<circle cx="339.57" cy="423.3" r="2.05" fill="#000"/>
<circle cx="337.99" cy="432.7" r="2.05" fill="#000"/>
<circle cx="304.18" cy="442.1" r="2.05" fill="#000"/>
<circle cx="339.22" cy="451.5" r="2.05" fill="#000"/>
<circle cx="282.64" cy="460.9" r="2.05" fill="#000"/>
<circle cx="357.61" cy="470.3" r="2.05" fill="#000"/>
<circle cx="282.64" cy="479.7" r="2.05" fill="#000"/>
<circle cx="282.64" cy="489.1" r="2.05" fill="#000"/>
<circle cx="282.64" cy="498.5" r="2.05" fill="#000"/>
<circle cx="365.85" cy="507.9" r="2.05" fill="#000"/>
<circle cx="374.08" cy="517.3" r="2.05" fill="#000"/>
<circle cx="282.64" cy="526.7" r="2.05" fill="#000"/>
<circle cx="282.64" cy="536.1" r="2.05" fill="#000"/>
<circle cx="365.85" cy="545.5" r="2.05" fill="#000"/>
<circle cx="282.64" cy="554.9" r="2.05" fill="#000"/>
<circle cx="282.64" cy="573.7" r="2.05" fill="#000"/>
<circle cx="349.73" cy="583.1" r="2.05" fill="#000"/>
<text x="282.75" y="426" font-size="7.5" fill="#000" text-anchor="start">MSS</text>
<text x="384.3" y="426" font-size="7.5" fill="#000" text-anchor="end">MSI</text>
<rect x="277.75" y="417.4" width="111.45" height="171" fill="none" stroke="#A6A6A6" stroke-width="0.8"/>
<line x1="282.48" y1="588.4" x2="282.48" y2="591.4" stroke="#262626" stroke-width="1.1"/>
<text transform="translate(282.48 598.9) scale(0.96 1)" font-size="7.9" fill="#404040" text-anchor="middle">-1.0</text>
<line x1="307.93" y1="588.4" x2="307.93" y2="591.4" stroke="#262626" stroke-width="1.1"/>
<text transform="translate(307.93 598.9) scale(0.96 1)" font-size="7.9" fill="#404040" text-anchor="middle">-0.5</text>
<line x1="333.38" y1="588.4" x2="333.38" y2="591.4" stroke="#262626" stroke-width="1.1"/>
<text transform="translate(333.38 598.9) scale(0.96 1)" font-size="7.9" fill="#404040" text-anchor="middle">0.0</text>
<line x1="358.82" y1="588.4" x2="358.82" y2="591.4" stroke="#262626" stroke-width="1.1"/>
<text transform="translate(358.82 598.9) scale(0.96 1)" font-size="7.9" fill="#404040" text-anchor="middle">0.5</text>
<line x1="384.27" y1="588.4" x2="384.27" y2="591.4" stroke="#262626" stroke-width="1.1"/>
<text transform="translate(384.27 598.9) scale(0.96 1)" font-size="7.9" fill="#404040" text-anchor="middle">1.0</text>
<rect x="394.62" y="399.6" width="111.45" height="17.8" fill="#D9D9D9" stroke="#A6A6A6" stroke-width="0.8"/>
<text x="450.35" y="412.8" font-size="10.7" fill="#1A1A1A" text-anchor="middle">MSKCC Primary</text>
<rect x="394.62" y="417.4" width="111.45" height="171" fill="#F2F2F2"/>
<line x1="412.07" y1="417.4" x2="412.07" y2="588.4" stroke="#FFFFFF" stroke-width="0.55"/>
<line x1="437.52" y1="417.4" x2="437.52" y2="588.4" stroke="#FFFFFF" stroke-width="0.55"/>
<line x1="462.98" y1="417.4" x2="462.98" y2="588.4" stroke="#FFFFFF" stroke-width="0.55"/>
<line x1="488.43" y1="417.4" x2="488.43" y2="588.4" stroke="#FFFFFF" stroke-width="0.55"/>
<line x1="394.62" y1="423.3" x2="506.07" y2="423.3" stroke="#FFFFFF" stroke-width="1"/>
<line x1="394.62" y1="432.7" x2="506.07" y2="432.7" stroke="#FFFFFF" stroke-width="1"/>
<line x1="394.62" y1="442.1" x2="506.07" y2="442.1" stroke="#FFFFFF" stroke-width="1"/>
<line x1="394.62" y1="451.5" x2="506.07" y2="451.5" stroke="#FFFFFF" stroke-width="1"/>
<line x1="394.62" y1="460.9" x2="506.07" y2="460.9" stroke="#FFFFFF" stroke-width="1"/>
<line x1="394.62" y1="470.3" x2="506.07" y2="470.3" stroke="#FFFFFF" stroke-width="1"/>
<line x1="394.62" y1="479.7" x2="506.07" y2="479.7" stroke="#FFFFFF" stroke-width="1"/>
<line x1="394.62" y1="489.1" x2="506.07" y2="489.1" stroke="#FFFFFF" stroke-width="1"/>
<line x1="394.62" y1="498.5" x2="506.07" y2="498.5" stroke="#FFFFFF" stroke-width="1"/>
<line x1="394.62" y1="507.9" x2="506.07" y2="507.9" stroke="#FFFFFF" stroke-width="1"/>
<line x1="394.62" y1="517.3" x2="506.07" y2="517.3" stroke="#FFFFFF" stroke-width="1"/>
<line x1="394.62" y1="526.7" x2="506.07" y2="526.7" stroke="#FFFFFF" stroke-width="1"/>
<line x1="394.62" y1="536.1" x2="506.07" y2="536.1" stroke="#FFFFFF" stroke-width="1"/>
<line x1="394.62" y1="545.5" x2="506.07" y2="545.5" stroke="#FFFFFF" stroke-width="1"/>
<line x1="394.62" y1="554.9" x2="506.07" y2="554.9" stroke="#FFFFFF" stroke-width="1"/>
<line x1="394.62" y1="564.3" x2="506.07" y2="564.3" stroke="#FFFFFF" stroke-width="1"/>
<line x1="394.62" y1="573.7" x2="506.07" y2="573.7" stroke="#FFFFFF" stroke-width="1"/>
<line x1="394.62" y1="583.1" x2="506.07" y2="583.1" stroke="#FFFFFF" stroke-width="1"/>
<line x1="399.35" y1="417.4" x2="399.35" y2="588.4" stroke="#FFFFFF" stroke-width="1"/>
<line x1="424.8" y1="417.4" x2="424.8" y2="588.4" stroke="#FFFFFF" stroke-width="1"/>
<line x1="450.25" y1="417.4" x2="450.25" y2="588.4" stroke="#FFFFFF" stroke-width="1"/>
<line x1="475.7" y1="417.4" x2="475.7" y2="588.4" stroke="#FFFFFF" stroke-width="1"/>
<line x1="501.15" y1="417.4" x2="501.15" y2="588.4" stroke="#FFFFFF" stroke-width="1"/>
<line x1="450.25" y1="588.4" x2="450.25" y2="417.4" stroke="#000" stroke-width="0.95" stroke-dasharray="4.2 3.36" stroke-dashoffset="0.5"/>
<rect x="440.1" y="420.45" width="22.77" height="5.7" fill="#BFBFBF"/>
<rect x="436.07" y="429.85" width="31.71" height="5.7" fill="#BFBFBF"/>
<rect x="401.39" y="439.25" width="39.77" height="5.7" fill="#D97F2E"/>
<rect x="446.06" y="448.65" width="32.76" height="5.7" fill="#BFBFBF"/>
<rect x="399.64" y="458.05" width="68.15" height="5.7" fill="#BFBFBF"/>
<rect x="422.76" y="467.45" width="57.46" height="5.7" fill="#BFBFBF"/>
<rect x="400.51" y="476.85" width="74.63" height="5.7" fill="#BFBFBF"/>
<rect x="400.86" y="486.25" width="83.04" height="5.7" fill="#BFBFBF"/>
<rect x="402.96" y="495.65" width="93.72" height="5.7" fill="#BFBFBF"/>
<rect x="419.08" y="505.05" width="76.73" height="5.7" fill="#BFBFBF"/>
<rect x="422.23" y="514.45" width="75.5" height="5.7" fill="#BFBFBF"/>
<rect x="399.64" y="523.85" width="94.07" height="5.7" fill="#BFBFBF"/>
<rect x="399.64" y="533.25" width="90.22" height="5.7" fill="#BFBFBF"/>
<rect x="399.64" y="542.65" width="94.07" height="5.7" fill="#BFBFBF"/>
<rect x="399.64" y="552.05" width="101.08" height="5.7" fill="#BFBFBF"/>
<rect x="399.64" y="561.45" width="101.08" height="5.7" fill="#BFBFBF"/>
<rect x="399.64" y="570.85" width="101.08" height="5.7" fill="#BFBFBF"/>
<rect x="475.14" y="580.25" width="25.58" height="5.7" fill="#D9562B"/>
<circle cx="451.49" cy="423.3" r="2.05" fill="#000"/>
<circle cx="452.72" cy="432.7" r="2.05" fill="#000"/>
<circle cx="414.88" cy="442.1" r="2.05" fill="#000"/>
<circle cx="464.8" cy="451.5" r="2.05" fill="#000"/>
<circle cx="399.46" cy="460.9" r="2.05" fill="#000"/>
<circle cx="455.52" cy="470.3" r="2.05" fill="#000"/>
<circle cx="429.77" cy="479.7" r="2.05" fill="#000"/>
<circle cx="439.23" cy="489.1" r="2.05" fill="#000"/>
<circle cx="463.93" cy="498.5" r="2.05" fill="#000"/>
<circle cx="473.04" cy="507.9" r="2.05" fill="#000"/>
<circle cx="478.47" cy="517.3" r="2.05" fill="#000"/>
<circle cx="399.46" cy="526.7" r="2.05" fill="#000"/>
<circle cx="399.46" cy="536.1" r="2.05" fill="#000"/>
<circle cx="399.46" cy="545.5" r="2.05" fill="#000"/>
<circle cx="399.46" cy="554.9" r="2.05" fill="#000"/>
<circle cx="399.46" cy="564.3" r="2.05" fill="#000"/>
<circle cx="399.46" cy="573.7" r="2.05" fill="#000"/>
<circle cx="495.11" cy="583.1" r="2.05" fill="#000"/>
<text x="399.62" y="426" font-size="7.5" fill="#000" text-anchor="start">MSS</text>
<text x="501.18" y="426" font-size="7.5" fill="#000" text-anchor="end">MSI</text>
<rect x="394.62" y="417.4" width="111.45" height="171" fill="none" stroke="#A6A6A6" stroke-width="0.8"/>
<line x1="399.35" y1="588.4" x2="399.35" y2="591.4" stroke="#262626" stroke-width="1.1"/>
<text transform="translate(399.35 598.9) scale(0.96 1)" font-size="7.9" fill="#404040" text-anchor="middle">-1.0</text>
<line x1="424.8" y1="588.4" x2="424.8" y2="591.4" stroke="#262626" stroke-width="1.1"/>
<text transform="translate(424.8 598.9) scale(0.96 1)" font-size="7.9" fill="#404040" text-anchor="middle">-0.5</text>
<line x1="450.25" y1="588.4" x2="450.25" y2="591.4" stroke="#262626" stroke-width="1.1"/>
<text transform="translate(450.25 598.9) scale(0.96 1)" font-size="7.9" fill="#404040" text-anchor="middle">0.0</text>
<line x1="475.7" y1="588.4" x2="475.7" y2="591.4" stroke="#262626" stroke-width="1.1"/>
<text transform="translate(475.7 598.9) scale(0.96 1)" font-size="7.9" fill="#404040" text-anchor="middle">0.5</text>
<line x1="501.15" y1="588.4" x2="501.15" y2="591.4" stroke="#262626" stroke-width="1.1"/>
<text transform="translate(501.15 598.9) scale(0.96 1)" font-size="7.9" fill="#404040" text-anchor="middle">1.0</text>
<rect x="511.5" y="399.6" width="111.45" height="17.8" fill="#D9D9D9" stroke="#A6A6A6" stroke-width="0.8"/>
<text x="567.23" y="412.8" font-size="10.7" fill="#1A1A1A" text-anchor="middle">MSKCC Metastasis</text>
<rect x="511.5" y="417.4" width="111.45" height="171" fill="#F2F2F2"/>
<line x1="528.95" y1="417.4" x2="528.95" y2="588.4" stroke="#FFFFFF" stroke-width="0.55"/>
<line x1="554.4" y1="417.4" x2="554.4" y2="588.4" stroke="#FFFFFF" stroke-width="0.55"/>
<line x1="579.85" y1="417.4" x2="579.85" y2="588.4" stroke="#FFFFFF" stroke-width="0.55"/>
<line x1="605.3" y1="417.4" x2="605.3" y2="588.4" stroke="#FFFFFF" stroke-width="0.55"/>
<line x1="511.5" y1="423.3" x2="622.95" y2="423.3" stroke="#FFFFFF" stroke-width="1"/>
<line x1="511.5" y1="432.7" x2="622.95" y2="432.7" stroke="#FFFFFF" stroke-width="1"/>
<line x1="511.5" y1="442.1" x2="622.95" y2="442.1" stroke="#FFFFFF" stroke-width="1"/>
<line x1="511.5" y1="451.5" x2="622.95" y2="451.5" stroke="#FFFFFF" stroke-width="1"/>
<line x1="511.5" y1="460.9" x2="622.95" y2="460.9" stroke="#FFFFFF" stroke-width="1"/>
<line x1="511.5" y1="470.3" x2="622.95" y2="470.3" stroke="#FFFFFF" stroke-width="1"/>
<line x1="511.5" y1="479.7" x2="622.95" y2="479.7" stroke="#FFFFFF" stroke-width="1"/>
<line x1="511.5" y1="489.1" x2="622.95" y2="489.1" stroke="#FFFFFF" stroke-width="1"/>
<line x1="511.5" y1="498.5" x2="622.95" y2="498.5" stroke="#FFFFFF" stroke-width="1"/>
<line x1="511.5" y1="507.9" x2="622.95" y2="507.9" stroke="#FFFFFF" stroke-width="1"/>
<line x1="511.5" y1="517.3" x2="622.95" y2="517.3" stroke="#FFFFFF" stroke-width="1"/>
<line x1="511.5" y1="526.7" x2="622.95" y2="526.7" stroke="#FFFFFF" stroke-width="1"/>
<line x1="511.5" y1="536.1" x2="622.95" y2="536.1" stroke="#FFFFFF" stroke-width="1"/>
<line x1="511.5" y1="545.5" x2="622.95" y2="545.5" stroke="#FFFFFF" stroke-width="1"/>
<line x1="511.5" y1="554.9" x2="622.95" y2="554.9" stroke="#FFFFFF" stroke-width="1"/>
<line x1="511.5" y1="564.3" x2="622.95" y2="564.3" stroke="#FFFFFF" stroke-width="1"/>
<line x1="511.5" y1="573.7" x2="622.95" y2="573.7" stroke="#FFFFFF" stroke-width="1"/>
<line x1="511.5" y1="583.1" x2="622.95" y2="583.1" stroke="#FFFFFF" stroke-width="1"/>
<line x1="516.23" y1="417.4" x2="516.23" y2="588.4" stroke="#FFFFFF" stroke-width="1"/>
<line x1="541.67" y1="417.4" x2="541.67" y2="588.4" stroke="#FFFFFF" stroke-width="1"/>
<line x1="567.12" y1="417.4" x2="567.12" y2="588.4" stroke="#FFFFFF" stroke-width="1"/>
<line x1="592.58" y1="417.4" x2="592.58" y2="588.4" stroke="#FFFFFF" stroke-width="1"/>
<line x1="618.02" y1="417.4" x2="618.02" y2="588.4" stroke="#FFFFFF" stroke-width="1"/>
<line x1="567.12" y1="588.4" x2="567.12" y2="417.4" stroke="#000" stroke-width="0.95" stroke-dasharray="4.2 3.36" stroke-dashoffset="0.5"/>
<rect x="546.24" y="420.45" width="49.58" height="5.7" fill="#BFBFBF"/>
<rect x="516.46" y="429.85" width="68.32" height="5.7" fill="#BFBFBF"/>
<rect x="517.86" y="439.25" width="79.01" height="5.7" fill="#BFBFBF"/>
<rect x="549.04" y="448.65" width="59.56" height="5.7" fill="#BFBFBF"/>
<rect x="516.46" y="458.05" width="85.49" height="5.7" fill="#BFBFBF"/>
<rect x="522.07" y="467.45" width="90.74" height="5.7" fill="#BFBFBF"/>
<rect x="521.01" y="476.85" width="90.92" height="5.7" fill="#BFBFBF"/>
<rect x="516.46" y="486.25" width="93.37" height="5.7" fill="#BFBFBF"/>
<rect x="516.46" y="495.65" width="97.4" height="5.7" fill="#BFBFBF"/>
<rect x="516.46" y="505.05" width="101.26" height="5.7" fill="#BFBFBF"/>
<rect x="516.46" y="514.45" width="101.26" height="5.7" fill="#BFBFBF"/>
<rect x="516.46" y="523.85" width="99.85" height="5.7" fill="#BFBFBF"/>
<rect x="516.46" y="533.25" width="100.55" height="5.7" fill="#BFBFBF"/>
<rect x="516.46" y="542.65" width="100.55" height="5.7" fill="#BFBFBF"/>
<rect x="516.46" y="552.05" width="100.55" height="5.7" fill="#BFBFBF"/>
<rect x="516.46" y="561.45" width="101.26" height="5.7" fill="#BFBFBF"/>
<rect x="564.81" y="580.25" width="51.33" height="5.7" fill="#E8B33F"/>
<circle cx="571.12" cy="423.3" r="2.05" fill="#000"/>
<circle cx="516.28" cy="432.7" r="2.05" fill="#000"/>
<circle cx="553.25" cy="442.1" r="2.05" fill="#000"/>
<circle cx="589.86" cy="451.5" r="2.05" fill="#000"/>
<circle cx="516.28" cy="460.9" r="2.05" fill="#000"/>
<circle cx="588.99" cy="470.3" r="2.05" fill="#000"/>
<circle cx="585.31" cy="479.7" r="2.05" fill="#000"/>
<circle cx="516.28" cy="489.1" r="2.05" fill="#000"/>
<circle cx="516.28" cy="498.5" r="2.05" fill="#000"/>
<circle cx="516.28" cy="507.9" r="2.05" fill="#000"/>
<circle cx="516.28" cy="517.3" r="2.05" fill="#000"/>
<circle cx="516.28" cy="526.7" r="2.05" fill="#000"/>
<circle cx="516.28" cy="536.1" r="2.05" fill="#000"/>
<circle cx="516.28" cy="545.5" r="2.05" fill="#000"/>
<circle cx="516.28" cy="554.9" r="2.05" fill="#000"/>
<circle cx="516.28" cy="564.3" r="2.05" fill="#000"/>
<circle cx="608.43" cy="583.1" r="2.05" fill="#000"/>
<text x="516.5" y="426" font-size="7.5" fill="#000" text-anchor="start">MSS</text>
<text x="618.05" y="426" font-size="7.5" fill="#000" text-anchor="end">MSI</text>
<rect x="511.5" y="417.4" width="111.45" height="171" fill="none" stroke="#A6A6A6" stroke-width="0.8"/>
<line x1="516.23" y1="588.4" x2="516.23" y2="591.4" stroke="#262626" stroke-width="1.1"/>
<text transform="translate(516.23 598.9) scale(0.96 1)" font-size="7.9" fill="#404040" text-anchor="middle">-1.0</text>
<line x1="541.67" y1="588.4" x2="541.67" y2="591.4" stroke="#262626" stroke-width="1.1"/>
<text transform="translate(541.67 598.9) scale(0.96 1)" font-size="7.9" fill="#404040" text-anchor="middle">-0.5</text>
<line x1="567.12" y1="588.4" x2="567.12" y2="591.4" stroke="#262626" stroke-width="1.1"/>
<text transform="translate(567.12 598.9) scale(0.96 1)" font-size="7.9" fill="#404040" text-anchor="middle">0.0</text>
<line x1="592.58" y1="588.4" x2="592.58" y2="591.4" stroke="#262626" stroke-width="1.1"/>
<text transform="translate(592.58 598.9) scale(0.96 1)" font-size="7.9" fill="#404040" text-anchor="middle">0.5</text>
<line x1="618.02" y1="588.4" x2="618.02" y2="591.4" stroke="#262626" stroke-width="1.1"/>
<text transform="translate(618.02 598.9) scale(0.96 1)" font-size="7.9" fill="#404040" text-anchor="middle">1.0</text>
<text x="8.5" y="503" font-size="9.5" fill="#000" text-anchor="middle" transform="rotate(-90 8.5 503)"><tspan font-style="italic">KRAS</tspan> mutation</text>
<text x="333.3" y="610.8" font-size="9.7" fill="#000" text-anchor="middle">Yule's Q</text>
<text x="637.6" y="466.5" font-size="9.7" fill="#000" text-anchor="start">Sig Level</text>
<rect x="637.9" y="472.4" width="15.2" height="76.4" fill="#F2F2F2"/>
<rect x="639.3" y="477.34" width="12.4" height="5.4" fill="#BFBFBF"/>
<text transform="translate(657.8 483.04) scale(0.96 1)" font-size="7.9" fill="#000" text-anchor="start">NS</text>
<rect x="639.3" y="492.62" width="12.4" height="5.4" fill="#E8B33F"/>
<text transform="translate(657.8 498.32) scale(0.96 1)" font-size="7.9" fill="#000" text-anchor="start">&lt;0.05</text>
<rect x="639.3" y="507.9" width="12.4" height="5.4" fill="#D97F2E"/>
<text transform="translate(657.8 513.6) scale(0.96 1)" font-size="7.9" fill="#000" text-anchor="start">&lt;0.01</text>
<rect x="639.3" y="523.18" width="12.4" height="5.4" fill="#D9562B"/>
<text transform="translate(657.8 528.88) scale(0.96 1)" font-size="7.9" fill="#000" text-anchor="start">&lt;0.001</text>
<rect x="639.3" y="538.46" width="12.4" height="5.4" fill="#C62E29"/>
<text transform="translate(657.8 544.16) scale(0.96 1)" font-size="7.9" fill="#000" text-anchor="start">&lt;0.0001</text>
</svg>
</body>
</html>
